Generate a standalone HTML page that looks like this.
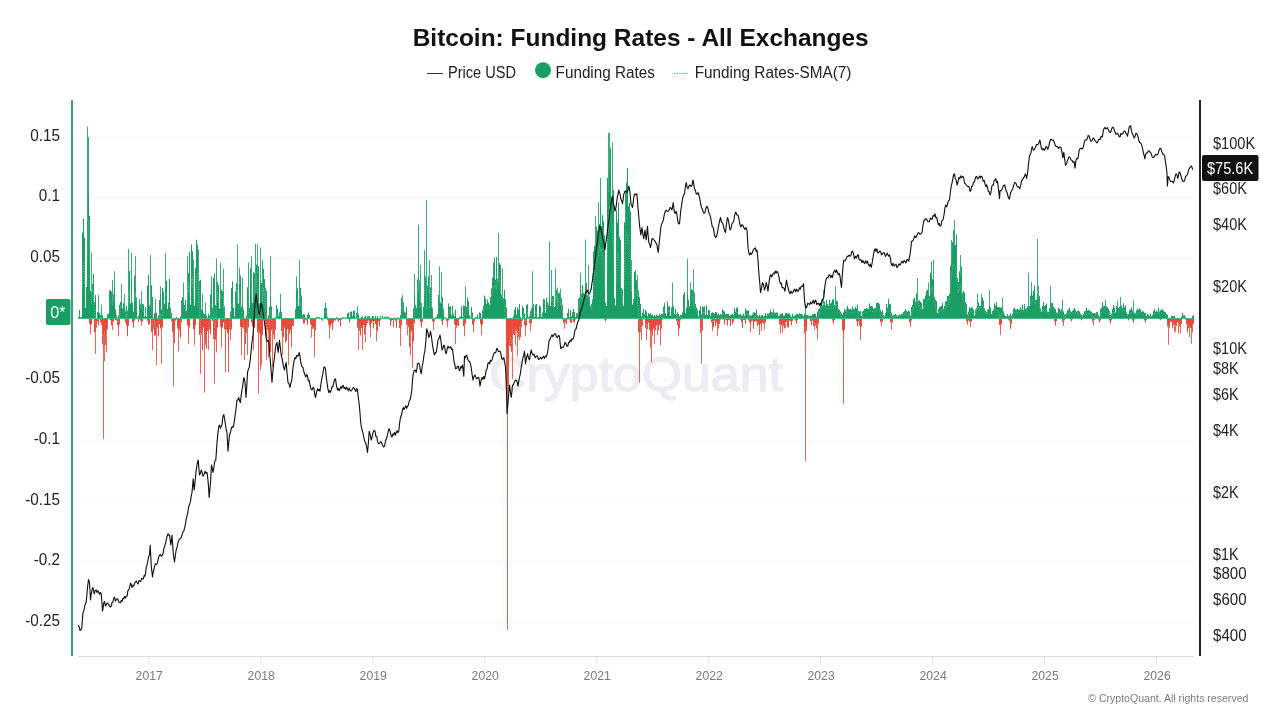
<!DOCTYPE html>
<html lang="en"><head><meta charset="utf-8"><title>Bitcoin: Funding Rates - All Exchanges</title>
<style>
html,body{margin:0;padding:0;background:#fff;}
body{width:1280px;height:720px;overflow:hidden;font-family:"Liberation Sans",sans-serif;}
svg{display:block;}
svg text{font-family:"Liberation Sans",sans-serif;}
.ax{font-size:16px;fill:#222;}
.yr{font-size:12px;fill:#7a7a7a;}
</style></head><body>
<svg width="1280" height="720" viewBox="0 0 1280 720">
<rect width="1280" height="720" fill="#fff"/>
<text x="412.7" y="45.7" textLength="456" lengthAdjust="spacingAndGlyphs" font-size="24" font-weight="bold" fill="#111">Bitcoin: Funding Rates - All Exchanges</text>
<line x1="427" y1="73.5" x2="443" y2="73.5" stroke="#333" stroke-width="1"/>
<text x="448" y="77.6" class="ax" textLength="68" lengthAdjust="spacingAndGlyphs">Price USD</text>
<circle cx="543" cy="70.2" r="8" fill="#1a9e65"/>
<text x="555.6" y="77.6" class="ax" textLength="99.2" lengthAdjust="spacingAndGlyphs">Funding Rates</text>
<line x1="674" y1="73.5" x2="689" y2="73.5" stroke="#4fb58c" stroke-width="1" stroke-dasharray="1.5,1"/>
<text x="694.7" y="77.6" class="ax" textLength="156.7" lengthAdjust="spacingAndGlyphs">Funding Rates-SMA(7)</text>
<g stroke="#f5f5f5" stroke-width="1">
<line x1="79" y1="622.35" x2="1193" y2="622.35"/>
<line x1="79" y1="561.68" x2="1193" y2="561.68"/>
<line x1="79" y1="501.01" x2="1193" y2="501.01"/>
<line x1="79" y1="440.34" x2="1193" y2="440.34"/>
<line x1="79" y1="379.67" x2="1193" y2="379.67"/>
<line x1="79" y1="258.33" x2="1193" y2="258.33"/>
<line x1="79" y1="197.66" x2="1193" y2="197.66"/>
<line x1="79" y1="136.99" x2="1193" y2="136.99"/>
</g>
<text x="489" y="390.6" textLength="294" lengthAdjust="spacingAndGlyphs" font-size="49" fill="#ececf2" stroke="#ececf2" stroke-width="1.4" stroke-linejoin="round">CryptoQuant</text>
<line x1="78" y1="656.5" x2="1194" y2="656.5" stroke="#dcdcdc" stroke-width="1"/>
<g stroke="#e2e2e2" stroke-width="1">
<line x1="149.2" y1="657" x2="149.2" y2="664"/>
<line x1="261.1" y1="657" x2="261.1" y2="664"/>
<line x1="373.0" y1="657" x2="373.0" y2="664"/>
<line x1="484.9" y1="657" x2="484.9" y2="664"/>
<line x1="596.8" y1="657" x2="596.8" y2="664"/>
<line x1="708.8" y1="657" x2="708.8" y2="664"/>
<line x1="820.7" y1="657" x2="820.7" y2="664"/>
<line x1="932.6" y1="657" x2="932.6" y2="664"/>
<line x1="1044.5" y1="657" x2="1044.5" y2="664"/>
<line x1="1156.4" y1="657" x2="1156.4" y2="664"/>
</g>
<text x="149.2" y="680" class="yr" text-anchor="middle" textLength="27.2" lengthAdjust="spacingAndGlyphs">2017</text>
<text x="261.2" y="680" class="yr" text-anchor="middle" textLength="27.2" lengthAdjust="spacingAndGlyphs">2018</text>
<text x="373.2" y="680" class="yr" text-anchor="middle" textLength="27.2" lengthAdjust="spacingAndGlyphs">2019</text>
<text x="485.2" y="680" class="yr" text-anchor="middle" textLength="27.2" lengthAdjust="spacingAndGlyphs">2020</text>
<text x="597.2" y="680" class="yr" text-anchor="middle" textLength="27.2" lengthAdjust="spacingAndGlyphs">2021</text>
<text x="709.2" y="680" class="yr" text-anchor="middle" textLength="27.2" lengthAdjust="spacingAndGlyphs">2022</text>
<text x="821.1" y="680" class="yr" text-anchor="middle" textLength="27.2" lengthAdjust="spacingAndGlyphs">2023</text>
<text x="933.1" y="680" class="yr" text-anchor="middle" textLength="27.2" lengthAdjust="spacingAndGlyphs">2024</text>
<text x="1045.1" y="680" class="yr" text-anchor="middle" textLength="27.2" lengthAdjust="spacingAndGlyphs">2025</text>
<text x="1157.1" y="680" class="yr" text-anchor="middle" textLength="27.2" lengthAdjust="spacingAndGlyphs">2026</text>
<path d="M89 318.7v5.1h1v-5.1zM90 318.7v6.2h1v-6.2zM91 318.7v5.9h1v-5.9zM94 318.7v13.6h1v-13.6zM95 318.7v13.8h1v-13.8zM96 318.7v9.0h1v-9.0zM97 318.7v3.0h1v-3.0zM98 318.7v6.7h1v-6.7zM100 318.7v3.8h1v-3.8zM101 318.7v6.4h1v-6.4zM102 318.7v25.6h1v-25.6zM103 318.7v15.3h1v-15.3zM104 318.7v12.6h1v-12.6zM105 318.7v26.6h1v-26.6zM106 318.7v11.7h1v-11.7zM107 318.7v10.9h1v-10.9zM109 318.7v0.4h1v-0.4zM110 318.7v1.4h1v-1.4zM111 318.7v6.8h1v-6.8zM112 318.7v3.7h1v-3.7zM113 318.7v2.7h1v-2.7zM115 318.7v1.2h1v-1.2zM116 318.7v1.8h1v-1.8zM117 318.7v6.3h1v-6.3zM118 318.7v8.2h1v-8.2zM119 318.7v5.8h1v-5.8zM125 318.7v3.7h1v-3.7zM126 318.7v7.0h1v-7.0zM127 318.7v17.6h1v-17.6zM128 318.7v7.0h1v-7.0zM132 318.7v3.3h1v-3.3zM133 318.7v8.8h1v-8.8zM134 318.7v2.1h1v-2.1zM137 318.7v0.3h1v-0.3zM138 318.7v3.3h1v-3.3zM139 318.7v0.5h1v-0.5zM140 318.7v1.7h1v-1.7zM141 318.7v2.2h1v-2.2zM142 318.7v2.7h1v-2.7zM147 318.7v2.1h1v-2.1zM148 318.7v5.7h1v-5.7zM149 318.7v5.6h1v-5.6zM151 318.7v13.0h1v-13.0zM152 318.7v13.3h1v-13.3zM153 318.7v10.2h1v-10.2zM154 318.7v16.9h1v-16.9zM155 318.7v16.9h1v-16.9zM156 318.7v8.4h1v-8.4zM157 318.7v9.5h1v-9.5zM158 318.7v17.9h1v-17.9zM159 318.7v5.7h1v-5.7zM160 318.7v9.9h1v-9.9zM161 318.7v8.3h1v-8.3zM162 318.7v8.5h1v-8.5zM171 318.7v2.8h1v-2.8zM172 318.7v13.9h1v-13.9zM173 318.7v13.0h1v-13.0zM174 318.7v24.3h1v-24.3zM175 318.7v2.1h1v-2.1zM176 318.7v0.8h1v-0.8zM177 318.7v9.9h1v-9.9zM178 318.7v12.0h1v-12.0zM179 318.7v11.9h1v-11.9zM180 318.7v18.8h1v-18.8zM181 318.7v3.9h1v-3.9zM187 318.7v6.8h1v-6.8zM188 318.7v7.0h1v-7.0zM189 318.7v8.8h1v-8.8zM193 318.7v10.3h1v-10.3zM194 318.7v11.1h1v-11.1zM195 318.7v6.7h1v-6.7zM199 318.7v16.0h1v-16.0zM200 318.7v14.1h1v-14.1zM201 318.7v15.8h1v-15.8zM202 318.7v31.6h1v-31.6zM203 318.7v8.8h1v-8.8zM204 318.7v15.5h1v-15.5zM205 318.7v25.9h1v-25.9zM206 318.7v29.9h1v-29.9zM207 318.7v12.4h1v-12.4zM208 318.7v15.1h1v-15.1zM209 318.7v10.7h1v-10.7zM210 318.7v15.7h1v-15.7zM212 318.7v2.2h1v-2.2zM213 318.7v20.2h1v-20.2zM214 318.7v11.9h1v-11.9zM215 318.7v21.0h1v-21.0zM216 318.7v16.3h1v-16.3zM217 318.7v8.9h1v-8.9zM220 318.7v8.0h1v-8.0zM221 318.7v12.3h1v-12.3zM222 318.7v8.7h1v-8.7zM223 318.7v3.9h1v-3.9zM224 318.7v10.5h1v-10.5zM225 318.7v32.6h1v-32.6zM226 318.7v11.0h1v-11.0zM227 318.7v14.6h1v-14.6zM228 318.7v29.5h1v-29.5zM229 318.7v10.9h1v-10.9zM230 318.7v8.5h1v-8.5zM231 318.7v10.9h1v-10.9zM240 318.7v8.1h1v-8.1zM241 318.7v20.1h1v-20.1zM242 318.7v8.7h1v-8.7zM243 318.7v9.7h1v-9.7zM244 318.7v13.2h1v-13.2zM245 318.7v25.2h1v-25.2zM246 318.7v14.0h1v-14.0zM247 318.7v8.0h1v-8.0zM248 318.7v8.9h1v-8.9zM251 318.7v3.8h1v-3.8zM252 318.7v7.8h1v-7.8zM253 318.7v15.7h1v-15.7zM254 318.7v9.0h1v-9.0zM257 318.7v13.5h1v-13.5zM258 318.7v11.7h1v-11.7zM259 318.7v14.5h1v-14.5zM260 318.7v29.0h1v-29.0zM261 318.7v18.8h1v-18.8zM262 318.7v16.5h1v-16.5zM265 318.7v17.0h1v-17.0zM266 318.7v17.2h1v-17.2zM267 318.7v11.0h1v-11.0zM268 318.7v13.8h1v-13.8zM269 318.7v31.6h1v-31.6zM270 318.7v33.1h1v-33.1zM271 318.7v11.2h1v-11.2zM272 318.7v11.8h1v-11.8zM273 318.7v16.2h1v-16.2zM274 318.7v20.9h1v-20.9zM275 318.7v11.1h1v-11.1zM281 318.7v12.2h1v-12.2zM282 318.7v17.3h1v-17.3zM283 318.7v18.4h1v-18.4zM284 318.7v9.0h1v-9.0zM285 318.7v23.8h1v-23.8zM286 318.7v22.1h1v-22.1zM287 318.7v10.2h1v-10.2zM288 318.7v10.8h1v-10.8zM289 318.7v15.6h1v-15.6zM290 318.7v11.6h1v-11.6zM291 318.7v17.0h1v-17.0zM292 318.7v7.4h1v-7.4zM293 318.7v7.9h1v-7.9zM302 318.7v0.7h1v-0.7zM303 318.7v4.9h1v-4.9zM304 318.7v4.5h1v-4.5zM305 318.7v0.7h1v-0.7zM306 318.7v1.9h1v-1.9zM307 318.7v6.0h1v-6.0zM308 318.7v0.2h1v-0.2zM310 318.7v5.7h1v-5.7zM311 318.7v7.1h1v-7.1zM312 318.7v10.1h1v-10.1zM313 318.7v9.7h1v-9.7zM314 318.7v18.0h1v-18.0zM315 318.7v12.0h1v-12.0zM321 318.7v1.1h1v-1.1zM322 318.7v2.0h1v-2.0zM327 318.7v1.3h1v-1.3zM328 318.7v6.0h1v-6.0zM329 318.7v9.2h1v-9.2zM330 318.7v7.9h1v-7.9zM331 318.7v5.0h1v-5.0zM332 318.7v11.3h1v-11.3zM333 318.7v4.1h1v-4.1zM334 318.7v1.6h1v-1.6zM335 318.7v1.7h1v-1.7zM337 318.7v1.9h1v-1.9zM338 318.7v3.0h1v-3.0zM339 318.7v1.6h1v-1.6zM340 318.7v7.8h1v-7.8zM341 318.7v1.1h1v-1.1zM348 318.7v0.6h1v-0.6zM349 318.7v4.0h1v-4.0zM350 318.7v0.8h1v-0.8zM357 318.7v9.1h1v-9.1zM358 318.7v12.0h1v-12.0zM359 318.7v12.2h1v-12.2zM360 318.7v16.7h1v-16.7zM361 318.7v9.5h1v-9.5zM362 318.7v12.9h1v-12.9zM363 318.7v6.4h1v-6.4zM364 318.7v15.5h1v-15.5zM365 318.7v10.0h1v-10.0zM366 318.7v6.5h1v-6.5zM367 318.7v4.0h1v-4.0zM368 318.7v1.7h1v-1.7zM369 318.7v6.6h1v-6.6zM370 318.7v9.9h1v-9.9zM371 318.7v4.2h1v-4.2zM372 318.7v2.6h1v-2.6zM373 318.7v9.8h1v-9.8zM374 318.7v2.4h1v-2.4zM375 318.7v5.6h1v-5.6zM376 318.7v10.7h1v-10.7zM377 318.7v12.3h1v-12.3zM378 318.7v2.7h1v-2.7zM379 318.7v7.7h1v-7.7zM380 318.7v1.7h1v-1.7zM388 318.7v0.3h1v-0.3zM389 318.7v1.0h1v-1.0zM390 318.7v7.2h1v-7.2zM391 318.7v2.3h1v-2.3zM392 318.7v1.3h1v-1.3zM393 318.7v8.6h1v-8.6zM394 318.7v0.6h1v-0.6zM395 318.7v2.6h1v-2.6zM396 318.7v9.1h1v-9.1zM397 318.7v0.6h1v-0.6zM398 318.7v0.6h1v-0.6zM399 318.7v9.2h1v-9.2zM400 318.7v10.5h1v-10.5zM401 318.7v6.8h1v-6.8zM406 318.7v5.8h1v-5.8zM407 318.7v6.4h1v-6.4zM408 318.7v8.3h1v-8.3zM409 318.7v28.4h1v-28.4zM410 318.7v10.4h1v-10.4zM411 318.7v12.8h1v-12.8zM412 318.7v26.0h1v-26.0zM413 318.7v22.6h1v-22.6zM414 318.7v4.6h1v-4.6zM420 318.7v3.5h1v-3.5zM421 318.7v8.8h1v-8.8zM422 318.7v3.1h1v-3.1zM432 318.7v2.6h1v-2.6zM433 318.7v3.5h1v-3.5zM434 318.7v2.7h1v-2.7zM441 318.7v2.3h1v-2.3zM442 318.7v6.3h1v-6.3zM443 318.7v1.3h1v-1.3zM446 318.7v2.5h1v-2.5zM447 318.7v3.2h1v-3.2zM448 318.7v1.9h1v-1.9zM454 318.7v5.9h1v-5.9zM455 318.7v6.6h1v-6.6zM456 318.7v9.1h1v-9.1zM457 318.7v6.9h1v-6.9zM458 318.7v7.2h1v-7.2zM463 318.7v7.4h1v-7.4zM464 318.7v4.5h1v-4.5zM465 318.7v5.2h1v-5.2zM472 318.7v5.8h1v-5.8zM473 318.7v7.0h1v-7.0zM474 318.7v3.0h1v-3.0zM480 318.7v5.1h1v-5.1zM481 318.7v7.2h1v-7.2zM482 318.7v6.1h1v-6.1zM506 318.7v67.1h1v-67.1zM507 318.7v67.9h1v-67.9zM508 318.7v72.1h1v-72.1zM509 318.7v26.9h1v-26.9zM510 318.7v27.7h1v-27.7zM511 318.7v33.0h1v-33.0zM512 318.7v11.0h1v-11.0zM513 318.7v15.8h1v-15.8zM514 318.7v16.4h1v-16.4zM515 318.7v9.0h1v-9.0zM516 318.7v12.4h1v-12.4zM517 318.7v14.8h1v-14.8zM518 318.7v18.5h1v-18.5zM519 318.7v8.8h1v-8.8zM520 318.7v18.5h1v-18.5zM521 318.7v3.4h1v-3.4zM522 318.7v1.9h1v-1.9zM524 318.7v6.4h1v-6.4zM525 318.7v8.7h1v-8.7zM526 318.7v6.9h1v-6.9zM529 318.7v4.4h1v-4.4zM530 318.7v5.1h1v-5.1zM531 318.7v4.5h1v-4.5zM562 318.7v0.9h1v-0.9zM563 318.7v4.3h1v-4.3zM564 318.7v4.0h1v-4.0zM565 318.7v3.9h1v-3.9zM566 318.7v5.2h1v-5.2zM567 318.7v0.7h1v-0.7zM568 318.7v0.3h1v-0.3zM569 318.7v0.8h1v-0.8zM570 318.7v3.7h1v-3.7zM571 318.7v4.5h1v-4.5zM572 318.7v0.3h1v-0.3zM573 318.7v3.2h1v-3.2zM574 318.7v4.0h1v-4.0zM575 318.7v0.7h1v-0.7zM604 318.7v1.0h1v-1.0zM605 318.7v2.6h1v-2.6zM606 318.7v0.9h1v-0.9zM638 318.7v13.5h1v-13.5zM639 318.7v14.6h1v-14.6zM640 318.7v13.7h1v-13.7zM641 318.7v8.8h1v-8.8zM642 318.7v7.1h1v-7.1zM645 318.7v9.1h1v-9.1zM646 318.7v6.5h1v-6.5zM647 318.7v10.2h1v-10.2zM648 318.7v4.3h1v-4.3zM649 318.7v11.5h1v-11.5zM650 318.7v14.7h1v-14.7zM651 318.7v11.4h1v-11.4zM652 318.7v16.8h1v-16.8zM653 318.7v10.0h1v-10.0zM654 318.7v9.3h1v-9.3zM655 318.7v11.6h1v-11.6zM656 318.7v6.9h1v-6.9zM657 318.7v4.4h1v-4.4zM658 318.7v11.3h1v-11.3zM659 318.7v6.2h1v-6.2zM660 318.7v12.9h1v-12.9zM661 318.7v9.7h1v-9.7zM662 318.7v1.0h1v-1.0zM676 318.7v2.0h1v-2.0zM677 318.7v6.3h1v-6.3zM678 318.7v8.2h1v-8.2zM679 318.7v9.9h1v-9.9zM680 318.7v1.7h1v-1.7zM700 318.7v14.1h1v-14.1zM701 318.7v11.9h1v-11.9zM702 318.7v11.7h1v-11.7zM711 318.7v3.9h1v-3.9zM712 318.7v5.2h1v-5.2zM713 318.7v8.2h1v-8.2zM714 318.7v2.1h1v-2.1zM715 318.7v7.3h1v-7.3zM716 318.7v4.0h1v-4.0zM717 318.7v5.3h1v-5.3zM718 318.7v9.9h1v-9.9zM719 318.7v5.2h1v-5.2zM720 318.7v1.6h1v-1.6zM722 318.7v0.9h1v-0.9zM723 318.7v0.8h1v-0.8zM724 318.7v5.8h1v-5.8zM725 318.7v0.9h1v-0.9zM726 318.7v1.6h1v-1.6zM727 318.7v6.9h1v-6.9zM728 318.7v1.3h1v-1.3zM729 318.7v1.8h1v-1.8zM730 318.7v7.2h1v-7.2zM731 318.7v0.6h1v-0.6zM732 318.7v5.4h1v-5.4zM733 318.7v3.0h1v-3.0zM740 318.7v1.0h1v-1.0zM741 318.7v3.3h1v-3.3zM742 318.7v9.5h1v-9.5zM743 318.7v1.4h1v-1.4zM744 318.7v1.3h1v-1.3zM745 318.7v5.2h1v-5.2zM748 318.7v1.6h1v-1.6zM749 318.7v3.3h1v-3.3zM750 318.7v6.6h1v-6.6zM751 318.7v2.9h1v-2.9zM752 318.7v2.0h1v-2.0zM753 318.7v10.1h1v-10.1zM754 318.7v3.0h1v-3.0zM755 318.7v2.3h1v-2.3zM756 318.7v2.9h1v-2.9zM757 318.7v7.5h1v-7.5zM758 318.7v5.6h1v-5.6zM759 318.7v8.0h1v-8.0zM760 318.7v5.2h1v-5.2zM761 318.7v5.8h1v-5.8zM762 318.7v4.0h1v-4.0zM763 318.7v5.2h1v-5.2zM764 318.7v3.5h1v-3.5zM765 318.7v3.9h1v-3.9zM779 318.7v5.7h1v-5.7zM780 318.7v5.7h1v-5.7zM781 318.7v6.7h1v-6.7zM782 318.7v4.2h1v-4.2zM783 318.7v7.5h1v-7.5zM784 318.7v9.9h1v-9.9zM785 318.7v3.3h1v-3.3zM786 318.7v3.4h1v-3.4zM787 318.7v8.6h1v-8.6zM788 318.7v8.8h1v-8.8zM789 318.7v2.1h1v-2.1zM790 318.7v2.6h1v-2.6zM791 318.7v6.3h1v-6.3zM792 318.7v2.4h1v-2.4zM795 318.7v2.1h1v-2.1zM796 318.7v5.1h1v-5.1zM797 318.7v1.2h1v-1.2zM804 318.7v14.6h1v-14.6zM805 318.7v8.6h1v-8.6zM806 318.7v12.4h1v-12.4zM810 318.7v2.4h1v-2.4zM811 318.7v6.3h1v-6.3zM812 318.7v1.9h1v-1.9zM813 318.7v7.4h1v-7.4zM814 318.7v5.0h1v-5.0zM815 318.7v6.8h1v-6.8zM816 318.7v9.8h1v-9.8zM817 318.7v7.1h1v-7.1zM818 318.7v5.0h1v-5.0zM832 318.7v2.0h1v-2.0zM833 318.7v5.1h1v-5.1zM834 318.7v1.3h1v-1.3zM842 318.7v11.9h1v-11.9zM843 318.7v14.2h1v-14.2zM844 318.7v11.5h1v-11.5zM856 318.7v2.3h1v-2.3zM857 318.7v7.6h1v-7.6zM858 318.7v2.6h1v-2.6zM859 318.7v6.7h1v-6.7zM860 318.7v9.2h1v-9.2zM861 318.7v7.7h1v-7.7zM880 318.7v3.3h1v-3.3zM881 318.7v2.6h1v-2.6zM882 318.7v3.0h1v-3.0zM890 318.7v3.2h1v-3.2zM891 318.7v3.7h1v-3.7zM892 318.7v3.8h1v-3.8zM909 318.7v3.6h1v-3.6zM910 318.7v3.2h1v-3.2zM911 318.7v1.7h1v-1.7zM966 318.7v2.4h1v-2.4zM967 318.7v5.8h1v-5.8zM968 318.7v1.7h1v-1.7zM969 318.7v2.8h1v-2.8zM970 318.7v3.0h1v-3.0zM971 318.7v2.8h1v-2.8zM999 318.7v6.2h1v-6.2zM1000 318.7v5.7h1v-5.7zM1001 318.7v5.8h1v-5.8zM1008 318.7v1.1h1v-1.1zM1009 318.7v2.4h1v-2.4zM1010 318.7v10.1h1v-10.1zM1011 318.7v5.1h1v-5.1zM1054 318.7v2.2h1v-2.2zM1055 318.7v6.9h1v-6.9zM1056 318.7v2.3h1v-2.3zM1062 318.7v3.2h1v-3.2zM1063 318.7v1.8h1v-1.8zM1064 318.7v1.5h1v-1.5zM1070 318.7v0.7h1v-0.7zM1071 318.7v2.6h1v-2.6zM1072 318.7v0.8h1v-0.8zM1080 318.7v0.4h1v-0.4zM1081 318.7v1.6h1v-1.6zM1082 318.7v0.6h1v-0.6zM1092 318.7v2.7h1v-2.7zM1093 318.7v1.9h1v-1.9zM1094 318.7v1.4h1v-1.4zM1098 318.7v1.0h1v-1.0zM1099 318.7v3.5h1v-3.5zM1100 318.7v1.7h1v-1.7zM1109 318.7v1.9h1v-1.9zM1110 318.7v4.8h1v-4.8zM1111 318.7v1.5h1v-1.5zM1127 318.7v0.4h1v-0.4zM1128 318.7v1.6h1v-1.6zM1129 318.7v0.6h1v-0.6zM1132 318.7v1.7h1v-1.7zM1133 318.7v4.1h1v-4.1zM1134 318.7v0.9h1v-0.9zM1144 318.7v1.7h1v-1.7zM1145 318.7v4.1h1v-4.1zM1146 318.7v1.4h1v-1.4zM1159 318.7v0.6h1v-0.6zM1160 318.7v1.6h1v-1.6zM1161 318.7v0.6h1v-0.6zM1166 318.7v0.6h1v-0.6zM1167 318.7v7.8h1v-7.8zM1168 318.7v8.0h1v-8.0zM1169 318.7v9.3h1v-9.3zM1170 318.7v2.8h1v-2.8zM1171 318.7v3.2h1v-3.2zM1172 318.7v9.6h1v-9.6zM1173 318.7v6.6h1v-6.6zM1174 318.7v5.8h1v-5.8zM1175 318.7v6.8h1v-6.8zM1176 318.7v7.2h1v-7.2zM1177 318.7v3.4h1v-3.4zM1178 318.7v4.0h1v-4.0zM1179 318.7v7.9h1v-7.9zM1180 318.7v4.4h1v-4.4zM1181 318.7v5.2h1v-5.2zM1185 318.7v0.9h1v-0.9zM1186 318.7v5.5h1v-5.5zM1187 318.7v13.8h1v-13.8zM1188 318.7v9.3h1v-9.3zM1189 318.7v7.3h1v-7.3zM1190 318.7v9.0h1v-9.0zM1191 318.7v10.0h1v-10.0zM1192 318.7v6.8h1v-6.8zM1193 318.7v4.8h1v-4.8z" fill="#e8493b"/>
<path d="M90 324.9v9.4h1v-9.4zM95 332.5v21.2h1v-21.2zM103 334.0v105.0h1v-105.0zM104 331.3v29.9h1v-29.9zM106 330.4v22.1h1v-22.1zM112 322.4v7.6h1v-7.6zM118 326.9v9.3h1v-9.3zM141 320.9v4.7h1v-4.7zM152 332.0v18.0h1v-18.0zM156 327.1v37.9h1v-37.9zM161 327.0v36.8h1v-36.8zM173 331.7v54.6h1v-54.6zM178 330.7v20.6h1v-20.6zM188 325.7v18.1h1v-18.1zM194 329.8v15.2h1v-15.2zM200 332.8v40.9h1v-40.9zM204 334.2v58.3h1v-58.3zM208 333.8v16.2h1v-16.2zM214 330.6v53.2h1v-53.2zM216 335.0v17.5h1v-17.5zM221 331.0v16.5h1v-16.5zM225 351.3v21.2h1v-21.2zM228 348.2v24.3h1v-24.3zM230 327.2v12.8h1v-12.8zM241 338.8v16.2h1v-16.2zM244 331.9v28.1h1v-28.1zM247 326.7v28.3h1v-28.3zM253 334.4v15.6h1v-15.6zM258 330.4v63.4h1v-63.4zM260 347.7v22.3h1v-22.3zM261 337.5v27.5h1v-27.5zM266 335.9v24.1h1v-24.1zM268 332.5v25.0h1v-25.0zM272 330.5v37.0h1v-37.0zM282 336.0v19.0h1v-19.0zM288 329.5v35.5h1v-35.5zM291 335.7v11.8h1v-11.8zM311 325.8v11.7h1v-11.7zM314 336.7v20.3h1v-20.3zM329 327.9v10.8h1v-10.8zM358 330.7v19.3h1v-19.3zM362 331.6v18.4h1v-18.4zM365 328.7v13.8h1v-13.8zM370 328.6v8.9h1v-8.9zM376 329.4v11.9h1v-11.9zM400 329.2v17.0h1v-17.0zM407 325.1v9.9h1v-9.9zM410 329.1v25.9h1v-25.9zM412 344.7v22.8h1v-22.8zM433 322.2v7.8h1v-7.8zM447 321.9v5.6h1v-5.6zM455 325.3v18.4h1v-18.4zM464 323.2v13.0h1v-13.0zM473 325.7v6.8h1v-6.8zM481 325.9v9.1h1v-9.1zM507 386.6v243.4h1v-243.4zM512 329.7v49.1h1v-49.1zM515 327.7v17.3h1v-17.3zM517 333.5v22.8h1v-22.8zM519 327.5v12.5h1v-12.5zM521 322.1v5.4h1v-5.4zM525 327.4v8.9h1v-8.9zM530 323.8v7.5h1v-7.5zM564 322.7v6.0h1v-6.0zM639 333.3v49.2h1v-49.2zM641 327.5v12.5h1v-12.5zM646 325.2v14.8h1v-14.8zM650 333.4v14.1h1v-14.1zM651 330.1v32.4h1v-32.4zM654 328.0v15.8h1v-15.8zM657 323.1v11.9h1v-11.9zM660 331.6v13.4h1v-13.4zM678 326.9v9.3h1v-9.3zM701 330.6v33.2h1v-33.2zM712 323.9v7.4h1v-7.4zM717 324.0v12.3h1v-12.3zM750 325.3v7.2h1v-7.2zM759 326.7v8.3h1v-8.3zM761 324.5v6.8h1v-6.8zM764 322.2v7.8h1v-7.8zM780 324.4v9.3h1v-9.3zM782 322.9v9.6h1v-9.6zM785 322.0v5.5h1v-5.5zM805 327.3v134.0h1v-134.0zM814 323.7v6.3h1v-6.3zM817 325.8v13.7h1v-13.7zM843 332.9v70.9h1v-70.9zM860 327.9v12.1h1v-12.1zM881 321.3v4.9h1v-4.9zM891 322.4v7.1h1v-7.1zM910 321.9v5.1h1v-5.1zM970 321.7v5.3h1v-5.3zM1000 324.4v10.6h1v-10.6zM1063 320.5v5.4h1v-5.4zM1093 320.6v4.8h1v-4.8zM1168 326.7v18.0h1v-18.0zM1174 324.5v8.0h1v-8.0zM1175 325.5v6.1h1v-6.1zM1178 322.7v10.8h1v-10.8zM1180 323.1v10.3h1v-10.3zM1189 326.0v11.2h1v-11.2zM1191 328.7v15.1h1v-15.1zM1192 325.5v7.0h1v-7.0z" fill="#e8493b" fill-opacity="0.85"/>
<path d="M87 220.6v-94.1h1v94.1zM88 193.9v-56.9h1v56.9zM91 303.7v-51.2h1v51.2zM98 312.0v-17.0h1v17.0zM101 314.6v-9.6h1v9.6zM112 304.4v-24.4h1v24.4zM114 287.4v-16.2h1v16.2zM121 300.2v-16.5h1v16.5zM124 306.3v-12.6h1v12.6zM128 307.6v-58.9h1v58.9zM131 277.6v-24.6h1v24.6zM135 288.1v-31.8h1v31.8zM141 305.2v-14.0h1v14.0zM150 307.3v-52.3h1v52.3zM155 313.6v-14.9h1v14.9zM160 295.0v-8.8h1v8.8zM165 287.3v-34.3h1v34.3zM183 303.1v-20.6h1v20.6zM187 303.4v-47.1h1v47.1zM193 292.7v-33.2h1v33.2zM198 305.2v-55.2h1v55.2zM202 308.2v-14.4h1v14.4zM205 313.6v-11.1h1v11.1zM211 289.0v-12.8h1v12.8zM216 305.3v-46.5h1v46.5zM220 299.5v-36.5h1v36.5zM223 308.1v-39.4h1v39.4zM237 302.2v-57.7h1v57.7zM239 283.5v-16.0h1v16.0zM242 302.8v-25.3h1v25.3zM248 301.9v-39.4h1v39.4zM251 300.2v-43.9h1v43.9zM255 305.0v-61.2h1v61.2zM257 272.6v-28.9h1v28.9zM260 279.7v-32.2h1v32.2zM262 305.4v-45.4h1v45.4zM265 309.9v-22.4h1v22.4zM270 295.5v-39.3h1v39.3zM280 306.2v-12.5h1v12.5zM296 290.7v-14.5h1v14.5zM299 305.6v-46.1h1v46.1zM325 309.1v-6.6h1v6.6zM357 312.9v-6.7h1v6.7zM402 305.7v-10.7h1v10.7zM414 294.9v-21.1h1v21.1zM418 292.3v-67.3h1v67.3zM420 307.3v-42.3h1v42.3zM424 274.3v-24.3h1v24.3zM426 308.9v-108.9h1v108.9zM429 307.4v-47.4h1v47.4zM431 306.3v-31.3h1v31.3zM439 298.9v-32.6h1v32.6zM441 303.4v-30.9h1v30.9zM465 305.6v-19.4h1v19.4zM493 276.7v-14.2h1v14.2zM498 276.6v-43.6h1v43.6zM502 297.1v-28.3h1v28.3zM532 304.4v-33.1h1v33.1zM549 297.0v-55.8h1v55.8zM551 297.4v-27.4h1v27.4zM555 305.7v-37.0h1v37.0zM557 309.0v-21.5h1v21.5zM560 304.3v-15.5h1v15.5zM580 284.5v-12.0h1v12.0zM585 287.1v-47.6h1v47.6zM588 291.6v-26.6h1v26.6zM595 244.9v-28.6h1v28.6zM598 231.9v-29.4h1v29.4zM600 205.1v-27.1h1v27.1zM608 191.6v-58.6h1v58.6zM609 172.1v-39.1h1v39.1zM612 200.6v-58.1h1v58.1zM625 225.0v-35.0h1v35.0zM631 290.4v-30.4h1v30.4zM637 295.6v-20.6h1v20.6zM672 305.0v-22.5h1v22.5zM687 293.2v-34.4h1v34.4zM690 293.7v-11.2h1v11.2zM693 307.2v-37.7h1v37.7zM805 314.8v-11.0h1v11.0zM823 304.4v-14.4h1v14.4zM835 305.7v-19.5h1v19.5zM917 301.5v-23.5h1v23.5zM928 295.1v-12.6h1v12.6zM931 276.0v-14.7h1v14.7zM933 279.5v-19.5h1v19.5zM951 263.0v-23.0h1v23.0zM954 244.3v-24.3h1v24.3zM960 274.8v-19.8h1v19.8zM977 304.7v-10.9h1v10.9zM981 301.3v-7.6h1v7.6zM989 304.7v-14.7h1v14.7zM1002 308.3v-10.8h1v10.8zM1028 308.1v-35.6h1v35.6zM1031 292.1v-10.2h1v10.2zM1037 291.5v-52.8h1v52.8zM1038 296.5v-10.8h1v10.8zM1050 301.2v-15.5h1v15.5zM1062 310.7v-11.0h1v11.0zM1105 307.2v-7.5h1v7.5zM1117 307.5v-6.8h1v6.8zM1120 305.6v-8.8h1v8.8zM1133 313.3v-13.1h1v13.1z" fill="#1a9e65" fill-opacity="0.85"/>
<path d="M78 318.7v-1.5h1v1.5zM79 318.7v-8.8h1v8.8zM80 318.7v-1.3h1v1.3zM81 318.7v-1.6h1v1.6zM82 318.7v-86.1h1v86.1zM83 318.7v-99.9h1v99.9zM84 318.7v-81.2h1v81.2zM85 318.7v-10.9h1v10.9zM86 318.7v-32.0h1v32.0zM87 318.7v-98.1h1v98.1zM88 318.7v-124.8h1v124.8zM89 318.7v-103.0h1v103.0zM90 318.7v-27.9h1v27.9zM91 318.7v-15.0h1v15.0zM92 318.7v-34.8h1v34.8zM93 318.7v-44.9h1v44.9zM94 318.7v-16.7h1v16.7zM95 318.7v-23.6h1v23.6zM96 318.7v-0.6h1v0.6zM97 318.7v-6.6h1v6.6zM98 318.7v-6.7h1v6.7zM99 318.7v-5.5h1v5.5zM100 318.7v-4.0h1v4.0zM101 318.7v-4.1h1v4.1zM102 318.7v-3.5h1v3.5zM103 318.7v-0.6h1v0.6zM104 318.7v-0.6h1v0.6zM105 318.7v-0.6h1v0.6zM106 318.7v-0.6h1v0.6zM107 318.7v-4.1h1v4.1zM108 318.7v-5.5h1v5.5zM109 318.7v-27.9h1v27.9zM110 318.7v-28.7h1v28.7zM111 318.7v-26.9h1v26.9zM112 318.7v-14.3h1v14.3zM113 318.7v-24.3h1v24.3zM114 318.7v-31.3h1v31.3zM115 318.7v-9.7h1v9.7zM116 318.7v-3.8h1v3.8zM117 318.7v-0.6h1v0.6zM118 318.7v-3.1h1v3.1zM119 318.7v-14.0h1v14.0zM120 318.7v-16.7h1v16.7zM121 318.7v-18.5h1v18.5zM122 318.7v-10.5h1v10.5zM123 318.7v-15.4h1v15.4zM124 318.7v-12.4h1v12.4zM125 318.7v-8.2h1v8.2zM126 318.7v-12.9h1v12.9zM127 318.7v-8.1h1v8.1zM128 318.7v-11.1h1v11.1zM129 318.7v-47.9h1v47.9zM130 318.7v-15.3h1v15.3zM131 318.7v-41.1h1v41.1zM132 318.7v-16.1h1v16.1zM133 318.7v-7.1h1v7.1zM134 318.7v-43.3h1v43.3zM135 318.7v-30.6h1v30.6zM136 318.7v-21.5h1v21.5zM137 318.7v-1.3h1v1.3zM138 318.7v-2.9h1v2.9zM139 318.7v-19.4h1v19.4zM140 318.7v-14.5h1v14.5zM141 318.7v-13.5h1v13.5zM142 318.7v-14.9h1v14.9zM143 318.7v-14.1h1v14.1zM144 318.7v-2.3h1v2.3zM145 318.7v-11.6h1v11.6zM146 318.7v-1.7h1v1.7zM147 318.7v-33.3h1v33.3zM148 318.7v-43.7h1v43.7zM149 318.7v-13.1h1v13.1zM150 318.7v-11.4h1v11.4zM151 318.7v-33.5h1v33.5zM152 318.7v-21.8h1v21.8zM153 318.7v-0.6h1v0.6zM154 318.7v-5.5h1v5.5zM155 318.7v-5.1h1v5.1zM156 318.7v-6.1h1v6.1zM157 318.7v-0.6h1v0.6zM158 318.7v-3.3h1v3.3zM159 318.7v-18.8h1v18.8zM160 318.7v-23.7h1v23.7zM161 318.7v-9.3h1v9.3zM162 318.7v-30.6h1v30.6zM163 318.7v-27.1h1v27.1zM164 318.7v-15.1h1v15.1zM165 318.7v-31.4h1v31.4zM166 318.7v-38.0h1v38.0zM167 318.7v-9.6h1v9.6zM168 318.7v-16.3h1v16.3zM169 318.7v-39.9h1v39.9zM170 318.7v-11.3h1v11.3zM171 318.7v-6.0h1v6.0zM172 318.7v-0.6h1v0.6zM173 318.7v-0.6h1v0.6zM174 318.7v-0.6h1v0.6zM175 318.7v-0.6h1v0.6zM176 318.7v-1.8h1v1.8zM177 318.7v-0.6h1v0.6zM178 318.7v-0.6h1v0.6zM179 318.7v-0.6h1v0.6zM180 318.7v-2.2h1v2.2zM181 318.7v-18.4h1v18.4zM182 318.7v-21.5h1v21.5zM183 318.7v-15.6h1v15.6zM184 318.7v-13.7h1v13.7zM185 318.7v-18.8h1v18.8zM186 318.7v-7.9h1v7.9zM187 318.7v-15.3h1v15.3zM188 318.7v-45.6h1v45.6zM189 318.7v-66.8h1v66.8zM190 318.7v-14.1h1v14.1zM191 318.7v-74.2h1v74.2zM192 318.7v-67.4h1v67.4zM193 318.7v-26.0h1v26.0zM194 318.7v-13.1h1v13.1zM195 318.7v-50.9h1v50.9zM196 318.7v-79.0h1v79.0zM197 318.7v-74.2h1v74.2zM198 318.7v-13.5h1v13.5zM199 318.7v-37.6h1v37.6zM200 318.7v-39.0h1v39.0zM201 318.7v-9.1h1v9.1zM202 318.7v-10.5h1v10.5zM203 318.7v-5.4h1v5.4zM204 318.7v-4.8h1v4.8zM205 318.7v-5.1h1v5.1zM206 318.7v-3.3h1v3.3zM207 318.7v-0.6h1v0.6zM208 318.7v-4.7h1v4.7zM209 318.7v-3.0h1v3.0zM210 318.7v-24.2h1v24.2zM211 318.7v-29.7h1v29.7zM212 318.7v-11.0h1v11.0zM213 318.7v-41.0h1v41.0zM214 318.7v-45.1h1v45.1zM215 318.7v-13.7h1v13.7zM216 318.7v-13.4h1v13.4zM217 318.7v-36.6h1v36.6zM218 318.7v-33.6h1v33.6zM219 318.7v-10.3h1v10.3zM220 318.7v-19.2h1v19.2zM221 318.7v-29.2h1v29.2zM222 318.7v-27.5h1v27.5zM223 318.7v-10.6h1v10.6zM224 318.7v-12.1h1v12.1zM225 318.7v-0.6h1v0.6zM226 318.7v-0.6h1v0.6zM227 318.7v-0.6h1v0.6zM228 318.7v-0.6h1v0.6zM229 318.7v-0.6h1v0.6zM230 318.7v-7.1h1v7.1zM231 318.7v-30.8h1v30.8zM232 318.7v-37.4h1v37.4zM233 318.7v-11.3h1v11.3zM234 318.7v-2.4h1v2.4zM235 318.7v-27.5h1v27.5zM236 318.7v-35.7h1v35.7zM237 318.7v-16.5h1v16.5zM238 318.7v-14.9h1v14.9zM239 318.7v-35.2h1v35.2zM240 318.7v-43.2h1v43.2zM241 318.7v-12.3h1v12.3zM242 318.7v-15.9h1v15.9zM243 318.7v-9.2h1v9.2zM244 318.7v-0.6h1v0.6zM245 318.7v-0.6h1v0.6zM246 318.7v-3.3h1v3.3zM247 318.7v-31.4h1v31.4zM248 318.7v-16.8h1v16.8zM249 318.7v-11.3h1v11.3zM250 318.7v-50.4h1v50.4zM251 318.7v-18.5h1v18.5zM252 318.7v-15.7h1v15.7zM253 318.7v-46.4h1v46.4zM254 318.7v-45.4h1v45.4zM255 318.7v-13.7h1v13.7zM256 318.7v-54.2h1v54.2zM257 318.7v-46.1h1v46.1zM258 318.7v-52.8h1v52.8zM259 318.7v-15.2h1v15.2zM260 318.7v-39.0h1v39.0zM261 318.7v-35.6h1v35.6zM262 318.7v-13.3h1v13.3zM263 318.7v-50.3h1v50.3zM264 318.7v-39.7h1v39.7zM265 318.7v-8.8h1v8.8zM266 318.7v-27.9h1v27.9zM267 318.7v-0.6h1v0.6zM268 318.7v-3.5h1v3.5zM269 318.7v-11.7h1v11.7zM270 318.7v-23.2h1v23.2zM271 318.7v-12.1h1v12.1zM272 318.7v-0.6h1v0.6zM273 318.7v-0.6h1v0.6zM274 318.7v-0.6h1v0.6zM275 318.7v-1.4h1v1.4zM276 318.7v-13.6h1v13.6zM277 318.7v-9.9h1v9.9zM278 318.7v-2.4h1v2.4zM279 318.7v-6.4h1v6.4zM280 318.7v-12.5h1v12.5zM281 318.7v-6.8h1v6.8zM282 318.7v-0.6h1v0.6zM283 318.7v-0.6h1v0.6zM284 318.7v-0.6h1v0.6zM285 318.7v-0.6h1v0.6zM286 318.7v-0.6h1v0.6zM287 318.7v-0.6h1v0.6zM288 318.7v-0.6h1v0.6zM289 318.7v-0.6h1v0.6zM290 318.7v-0.6h1v0.6zM291 318.7v-0.6h1v0.6zM292 318.7v-0.6h1v0.6zM293 318.7v-0.6h1v0.6zM294 318.7v-0.9h1v0.9zM295 318.7v-9.7h1v9.7zM296 318.7v-28.0h1v28.0zM297 318.7v-30.7h1v30.7zM298 318.7v-12.6h1v12.6zM299 318.7v-13.1h1v13.1zM300 318.7v-30.9h1v30.9zM301 318.7v-23.5h1v23.5zM302 318.7v-3.5h1v3.5zM303 318.7v-4.8h1v4.8zM304 318.7v-4.4h1v4.4zM305 318.7v-1.2h1v1.2zM306 318.7v-0.6h1v0.6zM307 318.7v-4.1h1v4.1zM308 318.7v-6.1h1v6.1zM309 318.7v-3.7h1v3.7zM310 318.7v-0.6h1v0.6zM311 318.7v-0.6h1v0.6zM312 318.7v-0.6h1v0.6zM313 318.7v-0.6h1v0.6zM314 318.7v-0.6h1v0.6zM315 318.7v-0.6h1v0.6zM316 318.7v-1.7h1v1.7zM317 318.7v-1.7h1v1.7zM318 318.7v-1.2h1v1.2zM319 318.7v-1.6h1v1.6zM320 318.7v-0.9h1v0.9zM321 318.7v-0.6h1v0.6zM322 318.7v-0.6h1v0.6zM323 318.7v-0.8h1v0.8zM324 318.7v-10.7h1v10.7zM325 318.7v-9.6h1v9.6zM326 318.7v-10.6h1v10.6zM327 318.7v-2.0h1v2.0zM328 318.7v-0.6h1v0.6zM329 318.7v-0.6h1v0.6zM330 318.7v-0.6h1v0.6zM331 318.7v-0.6h1v0.6zM332 318.7v-0.6h1v0.6zM333 318.7v-0.6h1v0.6zM334 318.7v-0.6h1v0.6zM335 318.7v-0.6h1v0.6zM336 318.7v-1.6h1v1.6zM337 318.7v-0.6h1v0.6zM338 318.7v-0.6h1v0.6zM339 318.7v-0.6h1v0.6zM340 318.7v-0.6h1v0.6zM341 318.7v-0.6h1v0.6zM342 318.7v-1.8h1v1.8zM343 318.7v-1.2h1v1.2zM344 318.7v-1.1h1v1.1zM345 318.7v-0.9h1v0.9zM346 318.7v-1.4h1v1.4zM347 318.7v-5.3h1v5.3zM348 318.7v-6.5h1v6.5zM349 318.7v-1.7h1v1.7zM350 318.7v-6.7h1v6.7zM351 318.7v-7.3h1v7.3zM352 318.7v-2.5h1v2.5zM353 318.7v-8.1h1v8.1zM354 318.7v-7.8h1v7.8zM355 318.7v-1.1h1v1.1zM356 318.7v-5.9h1v5.9zM357 318.7v-5.8h1v5.8zM358 318.7v-4.3h1v4.3zM359 318.7v-0.6h1v0.6zM360 318.7v-0.6h1v0.6zM361 318.7v-1.9h1v1.9zM362 318.7v-2.3h1v2.3zM363 318.7v-0.6h1v0.6zM364 318.7v-1.9h1v1.9zM365 318.7v-3.2h1v3.2zM366 318.7v-0.6h1v0.6zM367 318.7v-2.5h1v2.5zM368 318.7v-2.2h1v2.2zM369 318.7v-2.9h1v2.9zM370 318.7v-0.6h1v0.6zM371 318.7v-0.6h1v0.6zM372 318.7v-2.7h1v2.7zM373 318.7v-2.5h1v2.5zM374 318.7v-0.6h1v0.6zM375 318.7v-2.9h1v2.9zM376 318.7v-0.6h1v0.6zM377 318.7v-2.6h1v2.6zM378 318.7v-0.6h1v0.6zM379 318.7v-0.6h1v0.6zM380 318.7v-2.7h1v2.7zM381 318.7v-1.0h1v1.0zM382 318.7v-3.3h1v3.3zM383 318.7v-1.1h1v1.1zM384 318.7v-2.0h1v2.0zM385 318.7v-2.2h1v2.2zM386 318.7v-1.4h1v1.4zM387 318.7v-2.5h1v2.5zM388 318.7v-1.8h1v1.8zM389 318.7v-1.2h1v1.2zM390 318.7v-0.6h1v0.6zM391 318.7v-0.6h1v0.6zM392 318.7v-0.6h1v0.6zM393 318.7v-0.6h1v0.6zM394 318.7v-1.1h1v1.1zM395 318.7v-0.6h1v0.6zM396 318.7v-0.6h1v0.6zM397 318.7v-1.5h1v1.5zM398 318.7v-0.9h1v0.9zM399 318.7v-0.6h1v0.6zM400 318.7v-3.7h1v3.7zM401 318.7v-20.9h1v20.9zM402 318.7v-13.0h1v13.0zM403 318.7v-16.4h1v16.4zM404 318.7v-7.0h1v7.0zM405 318.7v-6.3h1v6.3zM406 318.7v-11.9h1v11.9zM407 318.7v-0.6h1v0.6zM408 318.7v-0.6h1v0.6zM409 318.7v-0.6h1v0.6zM410 318.7v-0.6h1v0.6zM411 318.7v-0.6h1v0.6zM412 318.7v-0.6h1v0.6zM413 318.7v-10.5h1v10.5zM414 318.7v-23.8h1v23.8zM415 318.7v-13.6h1v13.6zM416 318.7v-10.6h1v10.6zM417 318.7v-39.5h1v39.5zM418 318.7v-26.4h1v26.4zM419 318.7v-38.3h1v38.3zM420 318.7v-11.4h1v11.4zM421 318.7v-15.9h1v15.9zM422 318.7v-0.6h1v0.6zM423 318.7v-11.9h1v11.9zM424 318.7v-44.4h1v44.4zM425 318.7v-42.2h1v42.2zM426 318.7v-9.8h1v9.8zM427 318.7v-33.1h1v33.1zM428 318.7v-42.1h1v42.1zM429 318.7v-11.3h1v11.3zM430 318.7v-31.5h1v31.5zM431 318.7v-12.4h1v12.4zM432 318.7v-11.2h1v11.2zM433 318.7v-0.6h1v0.6zM434 318.7v-0.6h1v0.6zM435 318.7v-1.1h1v1.1zM436 318.7v-1.9h1v1.9zM437 318.7v-4.7h1v4.7zM438 318.7v-24.0h1v24.0zM439 318.7v-19.8h1v19.8zM440 318.7v-16.1h1v16.1zM441 318.7v-15.3h1v15.3zM442 318.7v-21.5h1v21.5zM443 318.7v-10.0h1v10.0zM444 318.7v-1.1h1v1.1zM445 318.7v-1.5h1v1.5zM446 318.7v-0.6h1v0.6zM447 318.7v-0.6h1v0.6zM448 318.7v-15.2h1v15.2zM449 318.7v-11.6h1v11.6zM450 318.7v-12.7h1v12.7zM451 318.7v-3.1h1v3.1zM452 318.7v-12.7h1v12.7zM453 318.7v-4.6h1v4.6zM454 318.7v-2.7h1v2.7zM455 318.7v-8.9h1v8.9zM456 318.7v-0.6h1v0.6zM457 318.7v-0.6h1v0.6zM458 318.7v-0.6h1v0.6zM459 318.7v-2.0h1v2.0zM460 318.7v-1.9h1v1.9zM461 318.7v-12.5h1v12.5zM462 318.7v-1.9h1v1.9zM463 318.7v-13.3h1v13.3zM464 318.7v-12.7h1v12.7zM465 318.7v-13.1h1v13.1zM466 318.7v-11.8h1v11.8zM467 318.7v-21.2h1v21.2zM468 318.7v-17.7h1v17.7zM469 318.7v-3.5h1v3.5zM470 318.7v-1.1h1v1.1zM471 318.7v-11.7h1v11.7zM472 318.7v-6.3h1v6.3zM473 318.7v-0.6h1v0.6zM474 318.7v-0.6h1v0.6zM475 318.7v-1.7h1v1.7zM476 318.7v-1.4h1v1.4zM477 318.7v-4.1h1v4.1zM478 318.7v-1.1h1v1.1zM479 318.7v-6.4h1v6.4zM480 318.7v-5.8h1v5.8zM481 318.7v-1.2h1v1.2zM482 318.7v-8.8h1v8.8zM483 318.7v-13.2h1v13.2zM484 318.7v-23.1h1v23.1zM485 318.7v-20.2h1v20.2zM486 318.7v-15.0h1v15.0zM487 318.7v-19.1h1v19.1zM488 318.7v-16.3h1v16.3zM489 318.7v-14.0h1v14.0zM490 318.7v-21.8h1v21.8zM491 318.7v-30.3h1v30.3zM492 318.7v-40.9h1v40.9zM493 318.7v-42.0h1v42.0zM494 318.7v-61.2h1v61.2zM495 318.7v-39.3h1v39.3zM496 318.7v-61.6h1v61.6zM497 318.7v-40.0h1v40.0zM498 318.7v-42.1h1v42.1zM499 318.7v-55.4h1v55.4zM500 318.7v-53.7h1v53.7zM501 318.7v-23.9h1v23.9zM502 318.7v-21.6h1v21.6zM503 318.7v-20.6h1v20.6zM504 318.7v-29.0h1v29.0zM505 318.7v-19.4h1v19.4zM506 318.7v-11.3h1v11.3zM507 318.7v-0.6h1v0.6zM508 318.7v-0.6h1v0.6zM509 318.7v-0.6h1v0.6zM510 318.7v-0.6h1v0.6zM511 318.7v-0.6h1v0.6zM512 318.7v-0.6h1v0.6zM513 318.7v-2.6h1v2.6zM514 318.7v-9.0h1v9.0zM515 318.7v-11.8h1v11.8zM516 318.7v-4.1h1v4.1zM517 318.7v-11.3h1v11.3zM518 318.7v-9.3h1v9.3zM519 318.7v-14.6h1v14.6zM520 318.7v-1.8h1v1.8zM521 318.7v-0.6h1v0.6zM522 318.7v-12.7h1v12.7zM523 318.7v-10.6h1v10.6zM524 318.7v-5.0h1v5.0zM525 318.7v-0.6h1v0.6zM526 318.7v-13.6h1v13.6zM527 318.7v-14.5h1v14.5zM528 318.7v-1.7h1v1.7zM529 318.7v-2.8h1v2.8zM530 318.7v-8.0h1v8.0zM531 318.7v-10.8h1v10.8zM532 318.7v-14.3h1v14.3zM533 318.7v-14.6h1v14.6zM534 318.7v-1.8h1v1.8zM535 318.7v-14.0h1v14.0zM536 318.7v-14.7h1v14.7zM537 318.7v-1.5h1v1.5zM538 318.7v-2.0h1v2.0zM539 318.7v-13.2h1v13.2zM540 318.7v-12.3h1v12.3zM541 318.7v-1.6h1v1.6zM542 318.7v-6.5h1v6.5zM543 318.7v-19.6h1v19.6zM544 318.7v-19.2h1v19.2zM545 318.7v-6.0h1v6.0zM546 318.7v-20.6h1v20.6zM547 318.7v-16.6h1v16.6zM548 318.7v-14.1h1v14.1zM549 318.7v-21.7h1v21.7zM550 318.7v-12.7h1v12.7zM551 318.7v-21.3h1v21.3zM552 318.7v-22.7h1v22.7zM553 318.7v-22.9h1v22.9zM554 318.7v-11.7h1v11.7zM555 318.7v-13.0h1v13.0zM556 318.7v-28.7h1v28.7zM557 318.7v-9.7h1v9.7zM558 318.7v-25.2h1v25.2zM559 318.7v-26.3h1v26.3zM560 318.7v-14.4h1v14.4zM561 318.7v-20.7h1v20.7zM562 318.7v-13.5h1v13.5zM563 318.7v-0.6h1v0.6zM564 318.7v-0.6h1v0.6zM565 318.7v-0.6h1v0.6zM566 318.7v-0.6h1v0.6zM567 318.7v-5.8h1v5.8zM568 318.7v-10.0h1v10.0zM569 318.7v-2.0h1v2.0zM570 318.7v-8.6h1v8.6zM571 318.7v-2.4h1v2.4zM572 318.7v-6.4h1v6.4zM573 318.7v-9.6h1v9.6zM574 318.7v-6.9h1v6.9zM575 318.7v-1.8h1v1.8zM576 318.7v-5.7h1v5.7zM577 318.7v-5.1h1v5.1zM578 318.7v-20.1h1v20.1zM579 318.7v-21.1h1v21.1zM580 318.7v-34.2h1v34.2zM581 318.7v-24.9h1v24.9zM582 318.7v-33.7h1v33.7zM583 318.7v-25.9h1v25.9zM584 318.7v-23.9h1v23.9zM585 318.7v-31.6h1v31.6zM586 318.7v-35.8h1v35.8zM587 318.7v-23.1h1v23.1zM588 318.7v-27.1h1v27.1zM589 318.7v-21.6h1v21.6zM590 318.7v-13.0h1v13.0zM591 318.7v-14.9h1v14.9zM592 318.7v-19.4h1v19.4zM593 318.7v-67.4h1v67.4zM594 318.7v-72.6h1v72.6zM595 318.7v-73.8h1v73.8zM596 318.7v-92.0h1v92.0zM597 318.7v-88.3h1v88.3zM598 318.7v-86.8h1v86.8zM599 318.7v-94.7h1v94.7zM600 318.7v-113.6h1v113.6zM601 318.7v-92.4h1v92.4zM602 318.7v-103.7h1v103.7zM603 318.7v-97.5h1v97.5zM604 318.7v-83.5h1v83.5zM605 318.7v-16.3h1v16.3zM606 318.7v-12.7h1v12.7zM607 318.7v-140.7h1v140.7zM608 318.7v-127.1h1v127.1zM609 318.7v-146.6h1v146.6zM610 318.7v-171.2h1v171.2zM611 318.7v-121.8h1v121.8zM612 318.7v-118.1h1v118.1zM613 318.7v-128.7h1v128.7zM614 318.7v-21.0h1v21.0zM615 318.7v-13.3h1v13.3zM616 318.7v-108.5h1v108.5zM617 318.7v-96.4h1v96.4zM618 318.7v-116.2h1v116.2zM619 318.7v-81.8h1v81.8zM620 318.7v-78.7h1v78.7zM621 318.7v-30.7h1v30.7zM622 318.7v-29.3h1v29.3zM623 318.7v-12.9h1v12.9zM624 318.7v-96.4h1v96.4zM625 318.7v-93.7h1v93.7zM626 318.7v-136.3h1v136.3zM627 318.7v-150.7h1v150.7zM628 318.7v-112.4h1v112.4zM629 318.7v-116.2h1v116.2zM630 318.7v-107.2h1v107.2zM631 318.7v-28.3h1v28.3zM632 318.7v-14.3h1v14.3zM633 318.7v-19.8h1v19.8zM634 318.7v-46.6h1v46.6zM635 318.7v-48.7h1v48.7zM636 318.7v-38.5h1v38.5zM637 318.7v-23.1h1v23.1zM638 318.7v-28.5h1v28.5zM639 318.7v-21.5h1v21.5zM640 318.7v-14.6h1v14.6zM641 318.7v-2.4h1v2.4zM642 318.7v-6.0h1v6.0zM643 318.7v-9.8h1v9.8zM644 318.7v-4.5h1v4.5zM645 318.7v-9.0h1v9.0zM646 318.7v-7.2h1v7.2zM647 318.7v-2.7h1v2.7zM648 318.7v-5.5h1v5.5zM649 318.7v-4.9h1v4.9zM650 318.7v-5.5h1v5.5zM651 318.7v-3.5h1v3.5zM652 318.7v-4.2h1v4.2zM653 318.7v-2.4h1v2.4zM654 318.7v-4.0h1v4.0zM655 318.7v-2.4h1v2.4zM656 318.7v-4.3h1v4.3zM657 318.7v-2.8h1v2.8zM658 318.7v-2.9h1v2.9zM659 318.7v-4.7h1v4.7zM660 318.7v-3.8h1v3.8zM661 318.7v-4.9h1v4.9zM662 318.7v-4.9h1v4.9zM663 318.7v-12.0h1v12.0zM664 318.7v-15.8h1v15.8zM665 318.7v-5.5h1v5.5zM666 318.7v-3.0h1v3.0zM667 318.7v-17.3h1v17.3zM668 318.7v-12.3h1v12.3zM669 318.7v-12.6h1v12.6zM670 318.7v-3.0h1v3.0zM671 318.7v-11.3h1v11.3zM672 318.7v-13.7h1v13.7zM673 318.7v-12.8h1v12.8zM674 318.7v-4.8h1v4.8zM675 318.7v-9.7h1v9.7zM676 318.7v-4.8h1v4.8zM677 318.7v-6.5h1v6.5zM678 318.7v-4.8h1v4.8zM679 318.7v-2.5h1v2.5zM680 318.7v-3.8h1v3.8zM681 318.7v-3.7h1v3.7zM682 318.7v-6.3h1v6.3zM683 318.7v-24.2h1v24.2zM684 318.7v-26.6h1v26.6zM685 318.7v-5.5h1v5.5zM686 318.7v-11.1h1v11.1zM687 318.7v-25.5h1v25.5zM688 318.7v-19.3h1v19.3zM689 318.7v-12.4h1v12.4zM690 318.7v-25.0h1v25.0zM691 318.7v-28.9h1v28.9zM692 318.7v-29.1h1v29.1zM693 318.7v-11.5h1v11.5zM694 318.7v-26.1h1v26.1zM695 318.7v-14.6h1v14.6zM696 318.7v-11.3h1v11.3zM697 318.7v-9.0h1v9.0zM698 318.7v-2.2h1v2.2zM699 318.7v-8.4h1v8.4zM700 318.7v-12.2h1v12.2zM701 318.7v-4.3h1v4.3zM702 318.7v-12.1h1v12.1zM703 318.7v-11.5h1v11.5zM704 318.7v-12.3h1v12.3zM705 318.7v-3.7h1v3.7zM706 318.7v-13.4h1v13.4zM707 318.7v-3.7h1v3.7zM708 318.7v-8.6h1v8.6zM709 318.7v-8.5h1v8.5zM710 318.7v-3.1h1v3.1zM711 318.7v-5.7h1v5.7zM712 318.7v-6.5h1v6.5zM713 318.7v-5.8h1v5.8zM714 318.7v-5.2h1v5.2zM715 318.7v-6.7h1v6.7zM716 318.7v-6.4h1v6.4zM717 318.7v-4.2h1v4.2zM718 318.7v-5.3h1v5.3zM719 318.7v-3.8h1v3.8zM720 318.7v-4.6h1v4.6zM721 318.7v-4.3h1v4.3zM722 318.7v-9.5h1v9.5zM723 318.7v-7.9h1v7.9zM724 318.7v-7.3h1v7.3zM725 318.7v-4.7h1v4.7zM726 318.7v-4.8h1v4.8zM727 318.7v-4.6h1v4.6zM728 318.7v-5.0h1v5.0zM729 318.7v-2.8h1v2.8zM730 318.7v-4.1h1v4.1zM731 318.7v-4.0h1v4.0zM732 318.7v-5.1h1v5.1zM733 318.7v-4.0h1v4.0zM734 318.7v-10.9h1v10.9zM735 318.7v-7.3h1v7.3zM736 318.7v-10.9h1v10.9zM737 318.7v-11.3h1v11.3zM738 318.7v-3.9h1v3.9zM739 318.7v-4.2h1v4.2zM740 318.7v-4.7h1v4.7zM741 318.7v-3.2h1v3.2zM742 318.7v-3.3h1v3.3zM743 318.7v-5.3h1v5.3zM744 318.7v-2.8h1v2.8zM745 318.7v-10.1h1v10.1zM746 318.7v-8.2h1v8.2zM747 318.7v-8.1h1v8.1zM748 318.7v-8.1h1v8.1zM749 318.7v-3.5h1v3.5zM750 318.7v-3.1h1v3.1zM751 318.7v-3.1h1v3.1zM752 318.7v-4.1h1v4.1zM753 318.7v-6.3h1v6.3zM754 318.7v-6.2h1v6.2zM755 318.7v-6.0h1v6.0zM756 318.7v-9.1h1v9.1zM757 318.7v-3.4h1v3.4zM758 318.7v-2.5h1v2.5zM759 318.7v-3.9h1v3.9zM760 318.7v-2.3h1v2.3zM761 318.7v-3.4h1v3.4zM762 318.7v-3.6h1v3.6zM763 318.7v-2.1h1v2.1zM764 318.7v-3.2h1v3.2zM765 318.7v-5.5h1v5.5zM766 318.7v-2.7h1v2.7zM767 318.7v-5.1h1v5.1zM768 318.7v-5.3h1v5.3zM769 318.7v-6.0h1v6.0zM770 318.7v-8.7h1v8.7zM771 318.7v-6.7h1v6.7zM772 318.7v-6.1h1v6.1zM773 318.7v-9.5h1v9.5zM774 318.7v-6.3h1v6.3zM775 318.7v-6.0h1v6.0zM776 318.7v-6.2h1v6.2zM777 318.7v-6.2h1v6.2zM778 318.7v-3.3h1v3.3zM779 318.7v-3.2h1v3.2zM780 318.7v-4.9h1v4.9zM781 318.7v-5.1h1v5.1zM782 318.7v-5.4h1v5.4zM783 318.7v-3.1h1v3.1zM784 318.7v-3.1h1v3.1zM785 318.7v-5.1h1v5.1zM786 318.7v-5.8h1v5.8zM787 318.7v-5.2h1v5.2zM788 318.7v-5.0h1v5.0zM789 318.7v-5.4h1v5.4zM790 318.7v-3.4h1v3.4zM791 318.7v-2.0h1v2.0zM792 318.7v-5.0h1v5.0zM793 318.7v-2.4h1v2.4zM794 318.7v-2.9h1v2.9zM795 318.7v-4.0h1v4.0zM796 318.7v-4.3h1v4.3zM797 318.7v-4.6h1v4.6zM798 318.7v-4.4h1v4.4zM799 318.7v-5.4h1v5.4zM800 318.7v-4.6h1v4.6zM801 318.7v-4.6h1v4.6zM802 318.7v-4.3h1v4.3zM803 318.7v-2.5h1v2.5zM804 318.7v-5.0h1v5.0zM805 318.7v-3.9h1v3.9zM806 318.7v-3.5h1v3.5zM807 318.7v-3.8h1v3.8zM808 318.7v-3.2h1v3.2zM809 318.7v-2.9h1v2.9zM810 318.7v-3.0h1v3.0zM811 318.7v-3.1h1v3.1zM812 318.7v-4.5h1v4.5zM813 318.7v-4.4h1v4.4zM814 318.7v-5.3h1v5.3zM815 318.7v-4.8h1v4.8zM816 318.7v-2.2h1v2.2zM817 318.7v-7.2h1v7.2zM818 318.7v-9.5h1v9.5zM819 318.7v-10.4h1v10.4zM820 318.7v-14.8h1v14.8zM821 318.7v-19.1h1v19.1zM822 318.7v-13.4h1v13.4zM823 318.7v-14.3h1v14.3zM824 318.7v-17.1h1v17.1zM825 318.7v-13.2h1v13.2zM826 318.7v-18.8h1v18.8zM827 318.7v-14.8h1v14.8zM828 318.7v-13.0h1v13.0zM829 318.7v-18.9h1v18.9zM830 318.7v-15.1h1v15.1zM831 318.7v-16.5h1v16.5zM832 318.7v-19.1h1v19.1zM833 318.7v-19.4h1v19.4zM834 318.7v-13.8h1v13.8zM835 318.7v-13.0h1v13.0zM836 318.7v-18.3h1v18.3zM837 318.7v-17.2h1v17.2zM838 318.7v-10.0h1v10.0zM839 318.7v-8.9h1v8.9zM840 318.7v-7.3h1v7.3zM841 318.7v-5.4h1v5.4zM842 318.7v-4.2h1v4.2zM843 318.7v-6.5h1v6.5zM844 318.7v-9.8h1v9.8zM845 318.7v-7.8h1v7.8zM846 318.7v-9.6h1v9.6zM847 318.7v-13.0h1v13.0zM848 318.7v-10.1h1v10.1zM849 318.7v-9.2h1v9.2zM850 318.7v-10.2h1v10.2zM851 318.7v-9.0h1v9.0zM852 318.7v-12.5h1v12.5zM853 318.7v-9.7h1v9.7zM854 318.7v-9.6h1v9.6zM855 318.7v-12.0h1v12.0zM856 318.7v-10.1h1v10.1zM857 318.7v-14.3h1v14.3zM858 318.7v-7.7h1v7.7zM859 318.7v-7.3h1v7.3zM860 318.7v-7.6h1v7.6zM861 318.7v-2.7h1v2.7zM862 318.7v-7.3h1v7.3zM863 318.7v-8.3h1v8.3zM864 318.7v-10.0h1v10.0zM865 318.7v-9.6h1v9.6zM866 318.7v-10.9h1v10.9zM867 318.7v-10.0h1v10.0zM868 318.7v-10.0h1v10.0zM869 318.7v-15.2h1v15.2zM870 318.7v-12.4h1v12.4zM871 318.7v-12.8h1v12.8zM872 318.7v-12.1h1v12.1zM873 318.7v-10.0h1v10.0zM874 318.7v-10.5h1v10.5zM875 318.7v-11.0h1v11.0zM876 318.7v-15.6h1v15.6zM877 318.7v-15.8h1v15.8zM878 318.7v-16.1h1v16.1zM879 318.7v-14.5h1v14.5zM880 318.7v-9.0h1v9.0zM881 318.7v-6.8h1v6.8zM882 318.7v-8.4h1v8.4zM883 318.7v-3.7h1v3.7zM884 318.7v-2.4h1v2.4zM885 318.7v-6.0h1v6.0zM886 318.7v-14.8h1v14.8zM887 318.7v-11.2h1v11.2zM888 318.7v-19.9h1v19.9zM889 318.7v-14.5h1v14.5zM890 318.7v-15.0h1v15.0zM891 318.7v-6.1h1v6.1zM892 318.7v-3.0h1v3.0zM893 318.7v-3.9h1v3.9zM894 318.7v-4.3h1v4.3zM895 318.7v-5.0h1v5.0zM896 318.7v-3.4h1v3.4zM897 318.7v-2.7h1v2.7zM898 318.7v-3.4h1v3.4zM899 318.7v-4.5h1v4.5zM900 318.7v-3.4h1v3.4zM901 318.7v-4.8h1v4.8zM902 318.7v-5.0h1v5.0zM903 318.7v-6.7h1v6.7zM904 318.7v-7.7h1v7.7zM905 318.7v-9.6h1v9.6zM906 318.7v-7.7h1v7.7zM907 318.7v-6.8h1v6.8zM908 318.7v-8.4h1v8.4zM909 318.7v-7.2h1v7.2zM910 318.7v-3.5h1v3.5zM911 318.7v-11.8h1v11.8zM912 318.7v-14.0h1v14.0zM913 318.7v-19.5h1v19.5zM914 318.7v-21.1h1v21.1zM915 318.7v-17.0h1v17.0zM916 318.7v-25.5h1v25.5zM917 318.7v-17.2h1v17.2zM918 318.7v-17.9h1v17.9zM919 318.7v-18.5h1v18.5zM920 318.7v-17.0h1v17.0zM921 318.7v-15.8h1v15.8zM922 318.7v-9.9h1v9.9zM923 318.7v-19.6h1v19.6zM924 318.7v-20.0h1v20.0zM925 318.7v-23.1h1v23.1zM926 318.7v-27.8h1v27.8zM927 318.7v-29.2h1v29.2zM928 318.7v-23.6h1v23.6zM929 318.7v-23.0h1v23.0zM930 318.7v-46.0h1v46.0zM931 318.7v-42.7h1v42.7zM932 318.7v-39.7h1v39.7zM933 318.7v-39.2h1v39.2zM934 318.7v-21.9h1v21.9zM935 318.7v-19.2h1v19.2zM936 318.7v-17.5h1v17.5zM937 318.7v-5.6h1v5.6zM938 318.7v-9.5h1v9.5zM939 318.7v-11.7h1v11.7zM940 318.7v-12.3h1v12.3zM941 318.7v-12.9h1v12.9zM942 318.7v-15.9h1v15.9zM943 318.7v-10.0h1v10.0zM944 318.7v-13.0h1v13.0zM945 318.7v-17.2h1v17.2zM946 318.7v-17.6h1v17.6zM947 318.7v-22.7h1v22.7zM948 318.7v-23.3h1v23.3zM949 318.7v-25.1h1v25.1zM950 318.7v-52.9h1v52.9zM951 318.7v-55.7h1v55.7zM952 318.7v-76.4h1v76.4zM953 318.7v-88.7h1v88.7zM954 318.7v-74.4h1v74.4zM955 318.7v-73.6h1v73.6zM956 318.7v-84.0h1v84.0zM957 318.7v-41.0h1v41.0zM958 318.7v-36.8h1v36.8zM959 318.7v-47.5h1v47.5zM960 318.7v-43.9h1v43.9zM961 318.7v-52.1h1v52.1zM962 318.7v-25.4h1v25.4zM963 318.7v-27.7h1v27.7zM964 318.7v-26.3h1v26.3zM965 318.7v-17.0h1v17.0zM966 318.7v-14.6h1v14.6zM967 318.7v-4.5h1v4.5zM968 318.7v-7.1h1v7.1zM969 318.7v-11.5h1v11.5zM970 318.7v-10.5h1v10.5zM971 318.7v-11.3h1v11.3zM972 318.7v-11.1h1v11.1zM973 318.7v-8.9h1v8.9zM974 318.7v-3.3h1v3.3zM975 318.7v-9.2h1v9.2zM976 318.7v-10.6h1v10.6zM977 318.7v-14.0h1v14.0zM978 318.7v-16.3h1v16.3zM979 318.7v-13.0h1v13.0zM980 318.7v-13.0h1v13.0zM981 318.7v-17.4h1v17.4zM982 318.7v-21.0h1v21.0zM983 318.7v-18.3h1v18.3zM984 318.7v-10.4h1v10.4zM985 318.7v-8.2h1v8.2zM986 318.7v-6.7h1v6.7zM987 318.7v-9.1h1v9.1zM988 318.7v-9.5h1v9.5zM989 318.7v-14.0h1v14.0zM990 318.7v-11.3h1v11.3zM991 318.7v-5.0h1v5.0zM992 318.7v-7.7h1v7.7zM993 318.7v-9.1h1v9.1zM994 318.7v-15.1h1v15.1zM995 318.7v-13.1h1v13.1zM996 318.7v-16.7h1v16.7zM997 318.7v-11.5h1v11.5zM998 318.7v-11.8h1v11.8zM999 318.7v-11.4h1v11.4zM1000 318.7v-11.0h1v11.0zM1001 318.7v-11.5h1v11.5zM1002 318.7v-10.4h1v10.4zM1003 318.7v-7.5h1v7.5zM1004 318.7v-4.5h1v4.5zM1005 318.7v-2.8h1v2.8zM1006 318.7v-2.6h1v2.6zM1007 318.7v-4.8h1v4.8zM1008 318.7v-2.9h1v2.9zM1009 318.7v-3.3h1v3.3zM1010 318.7v-5.3h1v5.3zM1011 318.7v-3.0h1v3.0zM1012 318.7v-5.3h1v5.3zM1013 318.7v-9.9h1v9.9zM1014 318.7v-10.9h1v10.9zM1015 318.7v-9.3h1v9.3zM1016 318.7v-9.2h1v9.2zM1017 318.7v-10.3h1v10.3zM1018 318.7v-9.0h1v9.0zM1019 318.7v-9.2h1v9.2zM1020 318.7v-11.8h1v11.8zM1021 318.7v-9.1h1v9.1zM1022 318.7v-14.3h1v14.3zM1023 318.7v-9.0h1v9.0zM1024 318.7v-14.5h1v14.5zM1025 318.7v-9.9h1v9.9zM1026 318.7v-10.7h1v10.7zM1027 318.7v-12.4h1v12.4zM1028 318.7v-10.6h1v10.6zM1029 318.7v-12.7h1v12.7zM1030 318.7v-23.2h1v23.2zM1031 318.7v-26.6h1v26.6zM1032 318.7v-23.2h1v23.2zM1033 318.7v-27.9h1v27.9zM1034 318.7v-33.1h1v33.1zM1035 318.7v-19.0h1v19.0zM1036 318.7v-19.2h1v19.2zM1037 318.7v-27.2h1v27.2zM1038 318.7v-22.2h1v22.2zM1039 318.7v-22.9h1v22.9zM1040 318.7v-10.8h1v10.8zM1041 318.7v-7.3h1v7.3zM1042 318.7v-12.8h1v12.8zM1043 318.7v-16.8h1v16.8zM1044 318.7v-12.6h1v12.6zM1045 318.7v-13.8h1v13.8zM1046 318.7v-15.3h1v15.3zM1047 318.7v-7.1h1v7.1zM1048 318.7v-6.6h1v6.6zM1049 318.7v-10.7h1v10.7zM1050 318.7v-17.5h1v17.5zM1051 318.7v-15.6h1v15.6zM1052 318.7v-15.9h1v15.9zM1053 318.7v-12.1h1v12.1zM1054 318.7v-10.5h1v10.5zM1055 318.7v-9.4h1v9.4zM1056 318.7v-6.2h1v6.2zM1057 318.7v-6.1h1v6.1zM1058 318.7v-11.1h1v11.1zM1059 318.7v-9.7h1v9.7zM1060 318.7v-8.3h1v8.3zM1061 318.7v-9.6h1v9.6zM1062 318.7v-8.0h1v8.0zM1063 318.7v-7.1h1v7.1zM1064 318.7v-4.5h1v4.5zM1065 318.7v-4.4h1v4.4zM1066 318.7v-5.4h1v5.4zM1067 318.7v-8.3h1v8.3zM1068 318.7v-9.2h1v9.2zM1069 318.7v-11.2h1v11.2zM1070 318.7v-7.4h1v7.4zM1071 318.7v-7.0h1v7.0zM1072 318.7v-7.6h1v7.6zM1073 318.7v-9.1h1v9.1zM1074 318.7v-10.7h1v10.7zM1075 318.7v-8.5h1v8.5zM1076 318.7v-7.0h1v7.0zM1077 318.7v-7.6h1v7.6zM1078 318.7v-8.2h1v8.2zM1079 318.7v-7.1h1v7.1zM1080 318.7v-5.3h1v5.3zM1081 318.7v-3.8h1v3.8zM1082 318.7v-3.4h1v3.4zM1083 318.7v-4.7h1v4.7zM1084 318.7v-7.5h1v7.5zM1085 318.7v-8.0h1v8.0zM1086 318.7v-11.1h1v11.1zM1087 318.7v-8.2h1v8.2zM1088 318.7v-8.9h1v8.9zM1089 318.7v-7.9h1v7.9zM1090 318.7v-7.9h1v7.9zM1091 318.7v-6.4h1v6.4zM1092 318.7v-6.0h1v6.0zM1093 318.7v-5.1h1v5.1zM1094 318.7v-5.7h1v5.7zM1095 318.7v-5.1h1v5.1zM1096 318.7v-6.5h1v6.5zM1097 318.7v-6.9h1v6.9zM1098 318.7v-3.9h1v3.9zM1099 318.7v-2.1h1v2.1zM1100 318.7v-9.7h1v9.7zM1101 318.7v-10.9h1v10.9zM1102 318.7v-16.8h1v16.8zM1103 318.7v-12.4h1v12.4zM1104 318.7v-13.0h1v13.0zM1105 318.7v-11.5h1v11.5zM1106 318.7v-12.2h1v12.2zM1107 318.7v-11.5h1v11.5zM1108 318.7v-10.0h1v10.0zM1109 318.7v-7.8h1v7.8zM1110 318.7v-3.6h1v3.6zM1111 318.7v-5.1h1v5.1zM1112 318.7v-9.5h1v9.5zM1113 318.7v-13.6h1v13.6zM1114 318.7v-11.1h1v11.1zM1115 318.7v-6.2h1v6.2zM1116 318.7v-12.8h1v12.8zM1117 318.7v-11.2h1v11.2zM1118 318.7v-10.8h1v10.8zM1119 318.7v-12.0h1v12.0zM1120 318.7v-13.1h1v13.1zM1121 318.7v-13.2h1v13.2zM1122 318.7v-10.8h1v10.8zM1123 318.7v-15.5h1v15.5zM1124 318.7v-11.5h1v11.5zM1125 318.7v-13.5h1v13.5zM1126 318.7v-6.4h1v6.4zM1127 318.7v-4.5h1v4.5zM1128 318.7v-5.0h1v5.0zM1129 318.7v-8.5h1v8.5zM1130 318.7v-9.2h1v9.2zM1131 318.7v-11.1h1v11.1zM1132 318.7v-8.2h1v8.2zM1133 318.7v-5.4h1v5.4zM1134 318.7v-6.1h1v6.1zM1135 318.7v-5.5h1v5.5zM1136 318.7v-8.4h1v8.4zM1137 318.7v-10.2h1v10.2zM1138 318.7v-8.7h1v8.7zM1139 318.7v-10.7h1v10.7zM1140 318.7v-9.1h1v9.1zM1141 318.7v-7.0h1v7.0zM1142 318.7v-7.4h1v7.4zM1143 318.7v-7.2h1v7.2zM1144 318.7v-5.6h1v5.6zM1145 318.7v-5.9h1v5.9zM1146 318.7v-2.8h1v2.8zM1147 318.7v-4.6h1v4.6zM1148 318.7v-4.3h1v4.3zM1149 318.7v-3.0h1v3.0zM1150 318.7v-5.2h1v5.2zM1151 318.7v-2.7h1v2.7zM1152 318.7v-3.9h1v3.9zM1153 318.7v-7.8h1v7.8zM1154 318.7v-9.6h1v9.6zM1155 318.7v-7.0h1v7.0zM1156 318.7v-8.3h1v8.3zM1157 318.7v-7.0h1v7.0zM1158 318.7v-10.6h1v10.6zM1159 318.7v-7.2h1v7.2zM1160 318.7v-8.1h1v8.1zM1161 318.7v-9.3h1v9.3zM1162 318.7v-9.5h1v9.5zM1163 318.7v-8.0h1v8.0zM1164 318.7v-7.0h1v7.0zM1165 318.7v-6.5h1v6.5zM1166 318.7v-5.0h1v5.0zM1167 318.7v-3.9h1v3.9zM1168 318.7v-0.6h1v0.6zM1169 318.7v-0.6h1v0.6zM1170 318.7v-0.6h1v0.6zM1171 318.7v-2.9h1v2.9zM1172 318.7v-2.6h1v2.6zM1173 318.7v-2.4h1v2.4zM1174 318.7v-2.7h1v2.7zM1175 318.7v-0.6h1v0.6zM1176 318.7v-0.6h1v0.6zM1177 318.7v-0.6h1v0.6zM1178 318.7v-0.6h1v0.6zM1179 318.7v-0.6h1v0.6zM1180 318.7v-0.6h1v0.6zM1181 318.7v-2.0h1v2.0zM1182 318.7v-5.9h1v5.9zM1183 318.7v-3.5h1v3.5zM1184 318.7v-3.5h1v3.5zM1185 318.7v-1.9h1v1.9zM1186 318.7v-0.6h1v0.6zM1187 318.7v-0.6h1v0.6zM1188 318.7v-0.6h1v0.6zM1189 318.7v-0.6h1v0.6zM1190 318.7v-0.6h1v0.6zM1191 318.7v-0.6h1v0.6zM1192 318.7v-2.8h1v2.8zM1193 318.7v-3.5h1v3.5z" fill="#1a9e65"/>
<path d="M78.5 315.5 L79.5 316.3 L80.5 316.3 L81.5 300.3 L82.5 279.9 L83.5 263.5 L84.5 279.0 L85.5 293.1 L86.5 270.1 L87.5 234.8 L88.5 220.1 L89.5 254.1 L90.5 278.0 L91.5 292.1 L92.5 288.5 L93.5 298.8 L94.5 313.2 L95.5 324.4 L96.5 326.4 L97.5 314.3 L98.5 311.3 L99.5 311.8 L100.5 313.9 L101.5 320.3 L102.5 346.0 L103.5 357.6 L104.5 357.9 L105.5 340.0 L106.5 333.4 L107.5 326.8 L108.5 314.0 L109.5 305.9 L110.5 301.4 L111.5 299.2 L112.5 300.1 L113.5 295.9 L114.5 301.9 L115.5 306.1 L116.5 317.2 L117.5 322.9 L118.5 320.8 L119.5 316.0 L120.5 305.2 L121.5 305.9 L122.5 306.1 L123.5 308.2 L124.5 308.7 L125.5 309.2 L126.5 318.0 L127.5 305.2 L128.5 298.0 L129.5 291.2 L130.5 292.1 L131.5 298.6 L132.5 303.6 L133.5 308.3 L134.5 298.7 L135.5 292.4 L136.5 301.1 L137.5 314.7 L138.5 315.1 L139.5 312.4 L140.5 306.0 L141.5 307.0 L142.5 307.0 L143.5 312.2 L144.5 312.9 L145.5 315.5 L146.5 309.1 L147.5 302.4 L148.5 300.1 L149.5 293.8 L150.5 295.9 L151.5 305.1 L152.5 320.4 L153.5 330.8 L154.5 320.2 L155.5 327.6 L156.5 326.1 L157.5 333.9 L158.5 320.5 L159.5 311.8 L160.5 317.4 L161.5 315.0 L162.5 316.1 L163.5 303.7 L164.5 296.4 L165.5 294.2 L166.5 295.3 L167.5 305.5 L168.5 305.1 L169.5 304.7 L170.5 306.9 L171.5 318.0 L172.5 334.3 L173.5 340.6 L174.5 338.1 L175.5 323.8 L176.5 320.8 L177.5 327.1 L178.5 329.9 L179.5 331.8 L180.5 321.3 L181.5 314.3 L182.5 303.0 L183.5 303.9 L184.5 304.5 L185.5 310.3 L186.5 300.3 L187.5 294.7 L188.5 282.6 L189.5 292.6 L190.5 286.6 L191.5 286.5 L192.5 277.2 L193.5 298.0 L194.5 301.4 L195.5 297.3 L196.5 276.5 L197.5 272.8 L198.5 281.4 L199.5 308.1 L200.5 325.6 L201.5 339.9 L202.5 330.3 L203.5 342.3 L204.5 341.1 L205.5 345.5 L206.5 332.8 L207.5 333.9 L208.5 329.9 L209.5 322.4 L210.5 307.1 L211.5 302.7 L212.5 299.2 L213.5 321.4 L214.5 328.0 L215.5 324.1 L216.5 303.1 L217.5 291.8 L218.5 302.1 L219.5 298.1 L220.5 299.0 L221.5 295.5 L222.5 296.7 L223.5 300.2 L224.5 317.0 L225.5 329.6 L226.5 335.1 L227.5 335.1 L228.5 335.1 L229.5 336.5 L230.5 319.0 L231.5 309.0 L232.5 302.3 L233.5 308.1 L234.5 310.2 L235.5 305.1 L236.5 290.3 L237.5 292.9 L238.5 289.7 L239.5 296.1 L240.5 306.7 L241.5 308.8 L242.5 319.7 L243.5 320.7 L244.5 334.4 L245.5 335.3 L246.5 334.3 L247.5 317.5 L248.5 312.3 L249.5 294.3 L250.5 293.0 L251.5 292.1 L252.5 292.9 L253.5 296.5 L254.5 284.2 L255.5 282.6 L256.5 276.5 L257.5 307.5 L258.5 315.6 L259.5 316.4 L260.5 310.4 L261.5 301.4 L262.5 305.7 L263.5 288.0 L264.5 293.7 L265.5 312.6 L266.5 323.1 L267.5 337.5 L268.5 335.5 L269.5 320.3 L270.5 309.8 L271.5 313.4 L272.5 329.6 L273.5 336.5 L274.5 328.7 L275.5 322.5 L276.5 316.1 L277.5 313.3 L278.5 314.8 L279.5 311.7 L280.5 314.7 L281.5 323.6 L282.5 332.5 L283.5 331.9 L284.5 329.3 L285.5 330.0 L286.5 330.3 L287.5 334.9 L288.5 333.6 L289.5 333.9 L290.5 330.3 L291.5 328.6 L292.5 327.8 L293.5 321.7 L294.5 318.1 L295.5 307.7 L296.5 301.6 L297.5 301.0 L298.5 297.5 L299.5 297.5 L300.5 295.2 L301.5 306.7 L302.5 314.1 L303.5 319.9 L304.5 320.4 L305.5 319.8 L306.5 320.1 L307.5 319.1 L308.5 317.9 L309.5 317.9 L310.5 323.0 L311.5 325.9 L312.5 326.7 L313.5 330.7 L314.5 331.1 L315.5 328.7 L316.5 320.5 L317.5 317.8 L318.5 317.8 L319.5 317.9 L320.5 318.4 L321.5 319.1 L322.5 319.2 L323.5 316.7 L324.5 313.0 L325.5 311.0 L326.5 312.7 L327.5 317.3 L328.5 323.7 L329.5 325.7 L330.5 325.5 L331.5 323.7 L332.5 322.9 L333.5 322.2 L334.5 320.2 L335.5 319.1 L336.5 319.1 L337.5 319.4 L338.5 320.0 L339.5 321.2 L340.5 320.8 L341.5 320.1 L342.5 318.3 L343.5 317.9 L344.5 318.0 L345.5 318.0 L346.5 317.1 L347.5 316.0 L348.5 317.1 L349.5 316.8 L350.5 316.6 L351.5 315.3 L352.5 315.0 L353.5 314.9 L354.5 315.2 L355.5 315.6 L356.5 314.7 L357.5 321.4 L358.5 325.1 L359.5 331.1 L360.5 326.6 L361.5 330.6 L362.5 328.5 L363.5 329.7 L364.5 328.2 L365.5 328.2 L366.5 325.8 L367.5 320.4 L368.5 320.4 L369.5 323.5 L370.5 324.8 L371.5 322.9 L372.5 321.0 L373.5 320.7 L374.5 322.4 L375.5 325.0 L376.5 327.1 L377.5 326.4 L378.5 323.4 L379.5 320.3 L380.5 319.5 L381.5 317.3 L382.5 317.6 L383.5 317.4 L384.5 317.6 L385.5 317.5 L386.5 317.4 L387.5 317.5 L388.5 317.6 L389.5 319.6 L390.5 320.4 L391.5 320.9 L392.5 321.2 L393.5 320.5 L394.5 320.8 L395.5 320.9 L396.5 320.8 L397.5 320.1 L398.5 320.1 L399.5 326.1 L400.5 322.0 L401.5 315.2 L402.5 306.1 L403.5 309.0 L404.5 312.6 L405.5 313.5 L406.5 318.3 L407.5 321.3 L408.5 329.7 L409.5 333.8 L410.5 334.7 L411.5 338.9 L412.5 336.1 L413.5 324.2 L414.5 311.3 L415.5 304.4 L416.5 305.5 L417.5 289.0 L418.5 283.3 L419.5 280.3 L420.5 296.4 L421.5 305.0 L422.5 313.6 L423.5 302.7 L424.5 293.3 L425.5 271.2 L426.5 278.6 L427.5 278.6 L428.5 291.0 L429.5 291.4 L430.5 291.0 L431.5 300.8 L432.5 309.7 L433.5 319.3 L434.5 321.4 L435.5 318.6 L436.5 317.1 L437.5 312.4 L438.5 301.9 L439.5 299.6 L440.5 295.0 L441.5 301.4 L442.5 302.7 L443.5 312.0 L444.5 316.1 L445.5 318.7 L446.5 320.7 L447.5 317.9 L448.5 315.0 L449.5 310.5 L450.5 313.0 L451.5 312.8 L452.5 314.5 L453.5 316.3 L454.5 324.1 L455.5 327.0 L456.5 327.2 L457.5 323.5 L458.5 321.2 L459.5 319.4 L460.5 315.3 L461.5 315.3 L462.5 313.0 L463.5 319.2 L464.5 312.9 L465.5 313.2 L466.5 305.2 L467.5 308.2 L468.5 309.9 L469.5 314.1 L470.5 315.3 L471.5 314.8 L472.5 317.8 L473.5 320.9 L474.5 321.8 L475.5 318.7 L476.5 317.2 L477.5 317.3 L478.5 316.3 L479.5 316.0 L480.5 319.6 L481.5 319.1 L482.5 317.5 L483.5 309.4 L484.5 307.0 L485.5 306.7 L486.5 307.5 L487.5 308.3 L488.5 308.5 L489.5 307.9 L490.5 305.0 L491.5 299.5 L492.5 292.4 L493.5 286.0 L494.5 286.3 L495.5 285.2 L496.5 289.6 L497.5 280.0 L498.5 281.3 L499.5 278.4 L500.5 291.2 L501.5 292.3 L502.5 299.2 L503.5 298.1 L504.5 304.4 L505.5 322.6 L506.5 392.9 L507.5 411.8 L508.5 403.5 L509.5 344.9 L510.5 336.8 L511.5 343.7 L512.5 341.2 L513.5 337.8 L514.5 330.8 L515.5 330.1 L516.5 334.5 L517.5 332.9 L518.5 334.7 L519.5 330.8 L520.5 328.7 L521.5 321.7 L522.5 315.7 L523.5 315.2 L524.5 321.5 L525.5 320.9 L526.5 316.5 L527.5 312.5 L528.5 316.2 L529.5 321.8 L530.5 320.0 L531.5 309.3 L532.5 303.6 L533.5 305.5 L534.5 312.4 L535.5 312.4 L536.5 312.5 L537.5 314.9 L538.5 315.2 L539.5 313.0 L540.5 313.1 L541.5 314.5 L542.5 313.0 L543.5 309.4 L544.5 309.5 L545.5 309.2 L546.5 309.8 L547.5 308.1 L548.5 296.4 L549.5 297.2 L550.5 290.0 L551.5 301.3 L552.5 299.2 L553.5 306.9 L554.5 301.2 L555.5 300.0 L556.5 296.0 L557.5 301.1 L558.5 301.6 L559.5 301.9 L560.5 302.8 L561.5 305.4 L562.5 312.5 L563.5 318.9 L564.5 322.5 L565.5 322.7 L566.5 319.4 L567.5 316.5 L568.5 315.0 L569.5 314.4 L570.5 317.4 L571.5 316.5 L572.5 316.3 L573.5 314.0 L574.5 314.9 L575.5 315.7 L576.5 316.1 L577.5 312.3 L578.5 309.1 L579.5 300.6 L580.5 299.6 L581.5 297.0 L582.5 301.2 L583.5 301.4 L584.5 292.0 L585.5 290.0 L586.5 290.2 L587.5 295.4 L588.5 298.4 L589.5 300.5 L590.5 308.5 L591.5 308.9 L592.5 297.7 L593.5 285.8 L594.5 268.6 L595.5 263.5 L596.5 260.3 L597.5 257.4 L598.5 256.9 L599.5 246.0 L600.5 251.0 L601.5 249.1 L602.5 258.0 L603.5 259.9 L604.5 277.9 L605.5 295.5 L606.5 283.6 L607.5 248.6 L608.5 212.9 L609.5 206.6 L610.5 219.8 L611.5 221.7 L612.5 230.5 L613.5 251.3 L614.5 285.0 L615.5 289.2 L616.5 273.6 L617.5 252.4 L618.5 257.9 L619.5 261.5 L620.5 279.2 L621.5 290.0 L622.5 303.6 L623.5 290.1 L624.5 269.5 L625.5 244.0 L626.5 232.8 L627.5 236.2 L628.5 240.3 L629.5 249.3 L630.5 260.4 L631.5 281.5 L632.5 299.5 L633.5 302.0 L634.5 294.9 L635.5 291.1 L636.5 291.7 L637.5 295.8 L638.5 317.0 L639.5 323.0 L640.5 333.3 L641.5 321.6 L642.5 322.6 L643.5 317.2 L644.5 317.7 L645.5 324.1 L646.5 327.1 L647.5 324.1 L648.5 322.0 L649.5 325.9 L650.5 336.1 L651.5 337.2 L652.5 333.3 L653.5 329.4 L654.5 328.3 L655.5 327.7 L656.5 325.9 L657.5 325.8 L658.5 325.7 L659.5 327.8 L660.5 327.4 L661.5 325.1 L662.5 317.2 L663.5 312.0 L664.5 311.8 L665.5 313.7 L666.5 313.3 L667.5 311.9 L668.5 310.0 L669.5 312.9 L670.5 313.1 L671.5 308.3 L672.5 306.2 L673.5 307.6 L674.5 313.1 L675.5 314.7 L676.5 314.4 L677.5 320.0 L678.5 323.0 L679.5 323.6 L680.5 319.2 L681.5 315.9 L682.5 311.6 L683.5 306.9 L684.5 307.1 L685.5 309.8 L686.5 302.9 L687.5 300.0 L688.5 299.8 L689.5 304.7 L690.5 302.7 L691.5 299.2 L692.5 296.5 L693.5 297.1 L694.5 300.1 L695.5 307.9 L696.5 311.5 L697.5 314.0 L698.5 314.7 L699.5 319.4 L700.5 329.2 L701.5 328.4 L702.5 323.1 L703.5 311.3 L704.5 313.0 L705.5 312.6 L706.5 314.4 L707.5 313.4 L708.5 314.4 L709.5 314.5 L710.5 315.1 L711.5 319.5 L712.5 321.8 L713.5 321.9 L714.5 320.8 L715.5 317.8 L716.5 322.5 L717.5 323.0 L718.5 325.4 L719.5 320.9 L720.5 317.9 L721.5 314.9 L722.5 314.2 L723.5 313.6 L724.5 314.6 L725.5 315.2 L726.5 318.1 L727.5 318.1 L728.5 318.5 L729.5 318.6 L730.5 318.8 L731.5 320.5 L732.5 318.2 L733.5 316.7 L734.5 314.1 L735.5 312.7 L736.5 312.6 L737.5 313.3 L738.5 314.7 L739.5 316.1 L740.5 317.5 L741.5 320.4 L742.5 320.2 L743.5 319.0 L744.5 314.9 L745.5 314.3 L746.5 313.3 L747.5 313.7 L748.5 314.6 L749.5 319.2 L750.5 320.2 L751.5 320.1 L752.5 319.3 L753.5 318.6 L754.5 318.2 L755.5 314.3 L756.5 317.1 L757.5 319.5 L758.5 324.8 L759.5 324.3 L760.5 325.7 L761.5 323.2 L762.5 323.2 L763.5 322.9 L764.5 321.0 L765.5 319.4 L766.5 316.0 L767.5 316.0 L768.5 315.3 L769.5 314.6 L770.5 314.3 L771.5 314.3 L772.5 314.1 L773.5 314.2 L774.5 314.2 L775.5 314.9 L776.5 314.9 L777.5 315.5 L778.5 317.9 L779.5 322.3 L780.5 324.4 L781.5 326.0 L782.5 324.5 L783.5 325.2 L784.5 324.1 L785.5 321.4 L786.5 321.1 L787.5 321.1 L788.5 321.2 L789.5 318.7 L790.5 318.2 L791.5 318.3 L792.5 318.5 L793.5 316.6 L794.5 316.8 L795.5 318.3 L796.5 318.0 L797.5 317.9 L798.5 315.7 L799.5 315.7 L800.5 315.7 L801.5 315.9 L802.5 316.3 L803.5 320.3 L804.5 350.7 L805.5 353.7 L806.5 349.9 L807.5 319.8 L808.5 316.7 L809.5 316.8 L810.5 318.8 L811.5 318.4 L812.5 320.6 L813.5 321.6 L814.5 324.0 L815.5 324.5 L816.5 326.4 L817.5 323.1 L818.5 318.9 L819.5 311.5 L820.5 309.5 L821.5 308.9 L822.5 306.0 L823.5 306.5 L824.5 306.5 L825.5 308.6 L826.5 309.0 L827.5 309.1 L828.5 309.0 L829.5 309.0 L830.5 308.2 L831.5 308.2 L832.5 307.3 L833.5 307.9 L834.5 305.1 L835.5 305.4 L836.5 304.7 L837.5 309.3 L838.5 311.2 L839.5 313.3 L840.5 314.2 L841.5 318.5 L842.5 337.6 L843.5 341.1 L844.5 337.1 L845.5 317.5 L846.5 312.4 L847.5 311.9 L848.5 312.0 L849.5 312.6 L850.5 312.8 L851.5 312.2 L852.5 312.3 L853.5 312.1 L854.5 312.2 L855.5 312.1 L856.5 311.2 L857.5 312.1 L858.5 312.6 L859.5 320.0 L860.5 323.2 L861.5 323.2 L862.5 317.1 L863.5 313.4 L864.5 312.9 L865.5 312.4 L866.5 312.4 L867.5 312.3 L868.5 311.4 L869.5 310.9 L870.5 310.4 L871.5 311.0 L872.5 311.5 L873.5 312.0 L874.5 312.2 L875.5 311.0 L876.5 309.9 L877.5 308.9 L878.5 309.1 L879.5 310.5 L880.5 315.4 L881.5 316.7 L882.5 317.8 L883.5 315.7 L884.5 316.2 L885.5 313.9 L886.5 312.1 L887.5 309.2 L888.5 309.3 L889.5 308.5 L890.5 314.8 L891.5 318.6 L892.5 320.9 L893.5 317.8 L894.5 316.0 L895.5 316.1 L896.5 316.4 L897.5 316.7 L898.5 316.5 L899.5 316.4 L900.5 316.1 L901.5 316.0 L902.5 315.3 L903.5 314.7 L904.5 313.7 L905.5 313.5 L906.5 313.7 L907.5 314.0 L908.5 314.1 L909.5 317.2 L910.5 316.5 L911.5 315.1 L912.5 309.3 L913.5 307.4 L914.5 306.8 L915.5 305.6 L916.5 301.5 L917.5 301.3 L918.5 302.8 L919.5 307.6 L920.5 308.1 L921.5 309.9 L922.5 309.3 L923.5 308.4 L924.5 305.7 L925.5 304.0 L926.5 302.2 L927.5 299.4 L928.5 300.4 L929.5 296.9 L930.5 292.6 L931.5 289.1 L932.5 286.5 L933.5 293.8 L934.5 298.1 L935.5 306.6 L936.5 310.0 L937.5 312.0 L938.5 313.2 L939.5 311.8 L940.5 311.1 L941.5 310.2 L942.5 310.7 L943.5 310.7 L944.5 310.4 L945.5 308.8 L946.5 306.8 L947.5 305.6 L948.5 304.0 L949.5 297.8 L950.5 286.3 L951.5 275.7 L952.5 268.3 L953.5 264.2 L954.5 264.8 L955.5 265.7 L956.5 277.6 L957.5 285.3 L958.5 292.8 L959.5 288.1 L960.5 285.0 L961.5 289.5 L962.5 297.0 L963.5 302.3 L964.5 304.0 L965.5 306.7 L966.5 313.4 L967.5 315.4 L968.5 316.0 L969.5 312.7 L970.5 311.8 L971.5 311.9 L972.5 312.2 L973.5 313.9 L974.5 314.3 L975.5 313.9 L976.5 309.5 L977.5 308.0 L978.5 307.5 L979.5 310.0 L980.5 308.2 L981.5 306.5 L982.5 305.4 L983.5 308.4 L984.5 311.1 L985.5 313.5 L986.5 313.8 L987.5 313.5 L988.5 308.9 L989.5 308.5 L990.5 309.4 L991.5 313.8 L992.5 314.2 L993.5 312.1 L994.5 311.0 L995.5 309.4 L996.5 310.2 L997.5 310.4 L998.5 311.5 L999.5 317.3 L1000.5 317.3 L1001.5 315.3 L1002.5 310.4 L1003.5 311.8 L1004.5 315.6 L1005.5 316.7 L1006.5 316.6 L1007.5 316.6 L1008.5 316.4 L1009.5 319.5 L1010.5 321.1 L1011.5 320.7 L1012.5 316.6 L1013.5 313.3 L1014.5 312.5 L1015.5 312.6 L1016.5 312.7 L1017.5 312.8 L1018.5 312.8 L1019.5 312.5 L1020.5 312.5 L1021.5 311.4 L1022.5 312.0 L1023.5 310.9 L1024.5 311.8 L1025.5 311.5 L1026.5 311.9 L1027.5 304.4 L1028.5 304.0 L1029.5 301.7 L1030.5 303.7 L1031.5 301.5 L1032.5 300.5 L1033.5 301.3 L1034.5 302.2 L1035.5 304.0 L1036.5 294.3 L1037.5 291.4 L1038.5 290.6 L1039.5 304.9 L1040.5 310.2 L1041.5 312.3 L1042.5 311.1 L1043.5 310.0 L1044.5 309.8 L1045.5 310.1 L1046.5 311.2 L1047.5 312.7 L1048.5 313.6 L1049.5 308.3 L1050.5 306.4 L1051.5 305.4 L1052.5 309.7 L1053.5 310.8 L1054.5 312.1 L1055.5 313.3 L1056.5 314.2 L1057.5 313.9 L1058.5 313.1 L1059.5 312.7 L1060.5 313.0 L1061.5 311.1 L1062.5 314.3 L1063.5 315.3 L1064.5 318.4 L1065.5 315.7 L1066.5 315.0 L1067.5 314.0 L1068.5 312.8 L1069.5 313.0 L1070.5 313.4 L1071.5 314.2 L1072.5 313.8 L1073.5 313.0 L1074.5 312.9 L1075.5 313.3 L1076.5 313.9 L1077.5 314.0 L1078.5 314.0 L1079.5 314.4 L1080.5 315.3 L1081.5 316.1 L1082.5 316.2 L1083.5 315.5 L1084.5 314.5 L1085.5 313.2 L1086.5 313.1 L1087.5 312.9 L1088.5 313.5 L1089.5 313.6 L1090.5 314.1 L1091.5 314.5 L1092.5 317.5 L1093.5 317.7 L1094.5 317.9 L1095.5 315.1 L1096.5 314.9 L1097.5 315.1 L1098.5 317.2 L1099.5 316.6 L1100.5 315.2 L1101.5 311.0 L1102.5 310.4 L1103.5 310.0 L1104.5 309.5 L1105.5 309.6 L1106.5 309.9 L1107.5 311.8 L1108.5 312.7 L1109.5 316.0 L1110.5 317.0 L1111.5 316.7 L1112.5 312.9 L1113.5 311.7 L1114.5 312.3 L1115.5 312.5 L1116.5 311.1 L1117.5 310.1 L1118.5 310.2 L1119.5 309.5 L1120.5 309.0 L1121.5 309.2 L1122.5 310.5 L1123.5 310.9 L1124.5 310.3 L1125.5 312.2 L1126.5 313.7 L1127.5 315.4 L1128.5 315.0 L1129.5 314.0 L1130.5 312.8 L1131.5 312.8 L1132.5 310.9 L1133.5 311.9 L1134.5 312.5 L1135.5 314.6 L1136.5 313.7 L1137.5 313.1 L1138.5 312.6 L1139.5 312.8 L1140.5 313.2 L1141.5 313.8 L1142.5 314.2 L1143.5 314.5 L1144.5 314.8 L1145.5 315.8 L1146.5 316.0 L1147.5 316.3 L1148.5 316.3 L1149.5 316.1 L1150.5 316.5 L1151.5 316.3 L1152.5 315.7 L1153.5 314.3 L1154.5 313.7 L1155.5 313.6 L1156.5 314.1 L1157.5 313.3 L1158.5 313.6 L1159.5 313.3 L1160.5 313.6 L1161.5 313.1 L1162.5 313.2 L1163.5 313.6 L1164.5 314.3 L1165.5 314.9 L1166.5 317.9 L1167.5 324.6 L1168.5 327.6 L1169.5 326.6 L1170.5 321.9 L1171.5 321.9 L1172.5 322.7 L1173.5 324.9 L1174.5 325.6 L1175.5 325.7 L1176.5 323.5 L1177.5 323.9 L1178.5 324.1 L1179.5 326.4 L1180.5 324.4 L1181.5 321.6 L1182.5 317.8 L1183.5 316.0 L1184.5 316.9 L1185.5 318.7 L1186.5 322.3 L1187.5 324.6 L1188.5 327.3 L1189.5 326.3 L1190.5 329.6 L1191.5 328.6 L1192.5 327.7 L1193.5 324.5" fill="none" stroke="#9fdcc0" stroke-width="0.8" stroke-dasharray="1 1.6" stroke-opacity="0.75"/>
<path d="M78.2 625.0 L79.1 626.7 L80.0 630.5 L80.9 630.1 L81.8 627.5 L82.4 619.5 L83.0 612.5 L84.0 610.1 L85.0 605.0 L85.6 603.2 L86.2 602.5 L86.9 594.3 L87.5 587.5 L88.5 579.5 L89.5 582.5 L90.5 600.0 L91.2 594.2 L92.0 590.0 L93.0 587.5 L93.6 591.2 L94.2 593.8 L95.2 590.5 L96.2 590.0 L97.1 592.5 L97.9 590.7 L98.8 592.5 L99.6 594.4 L100.4 592.4 L101.2 593.8 L101.9 601.8 L102.5 611.2 L103.1 607.8 L103.8 602.5 L104.6 601.5 L105.4 605.9 L106.2 605.0 L107.1 603.0 L107.9 603.6 L108.8 604.5 L109.6 606.2 L110.4 607.0 L111.2 606.2 L112.1 602.3 L112.9 602.1 L113.8 598.0 L114.6 597.2 L115.4 601.1 L116.2 600.0 L117.1 598.8 L117.9 599.4 L118.8 602.0 L119.6 602.6 L120.4 602.9 L121.2 600.5 L122.1 601.4 L122.9 598.2 L123.8 598.8 L124.6 596.4 L125.4 598.1 L126.2 596.2 L127.1 596.1 L127.9 590.4 L128.8 590.0 L129.6 587.3 L130.5 583.0 L131.2 584.2 L132.0 587.5 L132.8 585.3 L133.7 586.0 L134.5 583.8 L135.3 582.1 L136.2 581.0 L137.0 582.5 L138.0 584.0 L139.0 580.6 L140.0 581.2 L140.8 581.4 L141.7 578.2 L142.5 578.8 L143.3 579.0 L144.2 575.3 L145.0 576.2 L145.6 572.8 L146.2 567.5 L147.1 564.7 L148.0 560.0 L148.8 556.4 L149.5 554.5 L150.2 545.0 L151.2 565.0 L151.9 571.8 L152.5 577.0 L153.1 572.7 L153.8 570.0 L154.6 565.9 L155.5 563.8 L156.5 564.4 L157.5 562.5 L158.5 557.8 L159.5 555.0 L160.4 554.6 L161.2 556.2 L162.1 555.7 L163.0 553.8 L164.0 548.2 L165.0 545.0 L165.6 543.3 L166.2 540.0 L167.1 536.2 L168.0 533.8 L168.8 535.2 L169.5 535.0 L170.1 539.4 L170.8 545.0 L171.4 540.8 L172.0 535.0 L172.6 543.2 L173.2 552.5 L173.9 558.2 L174.5 562.0 L175.4 555.0 L176.2 550.0 L177.1 547.1 L178.0 542.5 L179.0 539.6 L180.0 538.8 L181.0 538.1 L182.0 535.0 L182.9 532.2 L183.8 531.2 L184.6 528.2 L185.5 523.8 L186.2 519.0 L187.0 516.2 L187.9 512.1 L188.8 506.2 L189.6 504.6 L190.5 501.2 L191.2 496.1 L192.0 492.5 L192.6 486.1 L193.2 478.8 L194.2 490.0 L194.9 483.1 L195.5 477.5 L196.2 470.4 L197.0 465.0 L197.6 461.9 L198.2 460.0 L198.9 468.3 L199.5 475.0 L200.4 473.5 L201.2 470.0 L202.1 472.4 L203.0 476.2 L204.0 474.7 L205.0 471.2 L206.0 473.3 L207.0 472.5 L207.6 476.9 L208.2 482.5 L209.2 497.5 L209.9 489.2 L210.5 482.5 L211.5 465.0 L212.2 468.0 L213.0 472.5 L213.8 468.2 L214.5 462.5 L215.1 460.6 L215.8 460.0 L216.4 451.9 L217.0 442.5 L217.9 433.4 L218.8 426.2 L219.6 425.1 L220.4 428.1 L221.2 426.2 L222.1 424.2 L222.9 416.6 L223.8 414.5 L224.6 418.9 L225.5 425.0 L226.2 429.8 L227.0 432.5 L228.0 451.2 L228.8 442.3 L229.5 435.0 L230.4 432.8 L231.2 428.8 L232.1 426.5 L232.9 427.5 L233.8 425.0 L234.6 419.4 L235.5 412.5 L236.2 407.2 L237.0 400.0 L237.9 400.0 L238.8 397.5 L239.6 401.1 L240.5 402.5 L241.2 395.3 L242.0 390.0 L242.9 384.6 L243.8 377.5 L244.4 379.3 L245.0 382.5 L246.0 397.5 L246.8 386.1 L247.5 372.5 L248.4 369.1 L249.2 367.5 L250.2 360.2 L251.2 350.0 L252.1 341.3 L253.0 335.0 L253.8 323.2 L254.5 310.0 L255.4 300.7 L256.2 293.8 L256.9 300.2 L257.5 305.0 L258.5 311.4 L259.5 315.0 L260.4 309.4 L261.2 302.5 L262.1 306.3 L263.0 312.5 L263.8 318.2 L264.5 322.5 L265.4 329.6 L266.2 338.8 L267.1 341.4 L267.9 340.3 L268.8 342.5 L269.6 353.2 L270.5 362.5 L271.2 371.9 L272.0 382.5 L272.9 371.3 L273.8 362.5 L274.6 356.0 L275.5 347.5 L276.2 344.2 L277.0 342.5 L277.6 348.3 L278.2 352.5 L278.9 345.6 L279.5 340.0 L280.4 348.4 L281.2 355.0 L282.1 358.3 L283.0 363.8 L283.8 367.7 L284.5 370.0 L285.4 365.5 L286.2 362.5 L287.1 373.6 L288.0 382.5 L289.0 383.9 L290.0 387.5 L290.9 382.7 L291.8 380.0 L292.4 374.4 L293.0 367.5 L294.0 361.2 L295.0 357.5 L295.8 358.7 L296.7 355.5 L297.5 356.2 L298.4 355.5 L299.2 352.5 L300.0 356.7 L300.8 362.5 L301.9 366.6 L303.0 367.5 L304.0 372.3 L305.0 375.0 L305.8 377.1 L306.7 374.4 L307.5 376.2 L308.3 380.9 L309.2 380.3 L310.0 385.0 L311.0 388.8 L312.0 390.0 L312.9 387.7 L313.8 387.5 L314.6 393.6 L315.5 397.5 L316.5 392.3 L317.5 388.8 L318.3 390.6 L319.2 389.4 L320.0 391.2 L321.0 383.5 L322.0 377.5 L322.9 373.7 L323.8 367.5 L324.6 366.9 L325.5 368.8 L326.2 376.7 L327.0 382.5 L327.9 388.6 L328.8 392.5 L329.6 390.7 L330.4 392.3 L331.2 390.0 L332.1 386.4 L332.9 386.8 L333.8 382.5 L334.6 379.7 L335.5 378.8 L336.5 385.8 L337.5 390.0 L338.3 388.5 L339.2 390.7 L340.0 388.8 L340.8 386.6 L341.7 388.4 L342.5 386.2 L343.3 385.3 L344.2 388.5 L345.0 387.5 L345.8 389.3 L346.7 387.2 L347.5 388.8 L348.3 390.8 L349.2 388.1 L350.0 390.0 L350.8 391.1 L351.7 390.3 L352.5 388.8 L353.3 387.5 L354.2 388.1 L355.0 390.0 L355.8 391.5 L356.7 388.5 L357.5 389.5 L358.2 396.9 L359.0 402.5 L359.8 410.6 L360.5 420.0 L361.2 426.1 L362.0 430.0 L362.9 432.6 L363.8 437.5 L364.6 441.2 L365.5 442.5 L366.5 446.5 L367.5 452.5 L368.4 442.6 L369.2 431.2 L370.2 434.6 L371.2 440.0 L372.1 437.1 L373.0 432.5 L374.0 430.5 L375.0 431.2 L375.8 436.5 L376.7 436.4 L377.5 441.2 L378.3 443.4 L379.2 443.6 L380.0 442.5 L380.8 441.7 L381.7 442.8 L382.5 445.0 L383.5 447.1 L384.5 446.2 L385.4 441.7 L386.2 438.8 L387.1 436.8 L388.0 432.5 L388.6 429.7 L389.2 428.8 L390.2 431.6 L391.2 436.2 L392.1 437.0 L392.9 433.8 L393.8 435.0 L394.6 432.4 L395.4 435.1 L396.2 432.5 L397.1 430.7 L397.9 432.7 L398.8 431.2 L399.6 423.2 L400.5 417.5 L401.5 414.8 L402.5 410.0 L403.3 407.6 L404.2 409.6 L405.0 407.5 L405.8 405.7 L406.7 408.2 L407.5 406.2 L408.3 405.5 L409.2 401.0 L410.0 400.0 L410.9 396.1 L411.8 390.0 L412.4 381.6 L413.0 375.0 L413.8 371.9 L414.5 370.0 L415.4 370.3 L416.2 372.5 L416.9 369.0 L417.5 363.8 L418.5 363.1 L419.5 365.0 L420.4 370.6 L421.2 373.8 L422.1 367.0 L423.0 362.5 L424.0 355.0 L425.0 350.0 L425.9 340.1 L426.8 328.8 L427.8 332.1 L428.8 337.5 L429.6 335.5 L430.5 331.2 L431.5 337.2 L432.5 345.0 L433.5 351.2 L434.5 355.0 L435.4 352.5 L436.2 352.5 L437.1 347.0 L438.0 340.0 L439.0 338.4 L440.0 335.0 L441.0 341.2 L442.0 350.0 L442.9 348.5 L443.8 345.0 L444.6 346.5 L445.4 351.9 L446.2 353.8 L447.1 348.9 L448.0 346.2 L449.0 348.1 L450.0 347.5 L450.8 346.6 L451.7 349.6 L452.5 348.8 L453.4 356.3 L454.2 362.5 L454.9 365.0 L455.5 368.8 L456.5 368.5 L457.5 366.2 L458.3 366.2 L459.2 370.4 L460.0 370.0 L460.8 366.6 L461.7 367.9 L462.5 365.0 L463.1 370.1 L463.8 376.2 L464.5 356.2 L465.3 357.9 L466.2 355.1 L467.0 356.2 L467.8 359.6 L468.7 361.2 L469.5 361.2 L470.4 363.6 L471.2 367.5 L472.1 374.5 L473.0 380.0 L474.0 376.3 L475.0 375.0 L476.0 377.8 L477.0 378.8 L477.9 377.4 L478.8 377.5 L479.4 381.0 L480.0 386.2 L481.0 380.8 L482.0 377.5 L482.8 379.4 L483.7 376.5 L484.5 378.8 L485.4 375.2 L486.2 370.0 L487.1 368.9 L487.9 363.4 L488.8 362.5 L489.6 363.8 L490.4 360.2 L491.2 361.2 L492.1 359.7 L493.0 356.2 L494.0 353.2 L495.0 352.5 L495.8 352.7 L496.7 348.6 L497.5 348.8 L498.3 351.4 L499.2 351.5 L500.0 351.2 L500.9 353.9 L501.8 358.8 L502.8 359.2 L503.8 357.5 L504.6 361.8 L505.5 367.5 L506.5 390.0 L507.0 413.8 L507.6 407.8 L508.2 400.0 L508.9 391.6 L509.5 385.0 L510.4 392.0 L511.2 397.5 L511.9 392.0 L512.5 385.0 L513.4 384.9 L514.2 382.5 L515.2 380.2 L516.2 380.0 L517.1 381.8 L518.0 386.2 L518.8 381.1 L519.5 377.5 L520.4 373.5 L521.2 367.5 L522.1 361.8 L523.0 357.5 L523.8 355.1 L524.5 351.2 L525.5 363.8 L526.5 357.6 L527.5 353.8 L528.5 358.0 L529.5 360.0 L530.4 353.9 L531.2 350.0 L532.1 353.5 L533.0 355.0 L534.1 354.1 L535.2 357.6 L536.2 356.2 L537.3 355.8 L538.4 359.4 L539.5 358.8 L540.5 357.2 L541.5 359.1 L542.5 357.5 L543.4 356.3 L544.4 358.4 L545.3 356.0 L546.2 357.0 L547.1 354.3 L548.0 350.0 L548.6 344.5 L549.2 340.0 L550.2 339.3 L551.2 336.2 L552.1 334.9 L552.9 336.8 L553.8 335.0 L554.6 333.7 L555.5 333.8 L556.5 336.7 L557.5 337.5 L558.5 335.4 L559.5 336.2 L560.1 343.0 L560.8 348.8 L561.9 347.1 L563.0 347.5 L564.0 346.0 L565.0 342.5 L566.0 343.6 L567.0 346.2 L567.8 346.2 L568.7 342.4 L569.5 342.5 L570.3 340.0 L571.2 341.2 L572.0 338.8 L572.9 339.2 L573.8 337.5 L574.4 333.2 L575.0 330.0 L576.0 329.0 L577.0 325.0 L577.9 321.8 L578.8 320.0 L579.4 317.4 L580.0 313.8 L581.0 309.8 L582.0 307.5 L582.9 304.9 L583.8 300.0 L584.6 297.1 L585.5 292.5 L586.5 292.4 L587.5 290.0 L588.4 293.1 L589.2 293.8 L590.0 292.5 L590.8 290.0 L591.2 288.8 L591.9 283.6 L592.5 280.0 L593.1 274.5 L593.8 270.0 L594.6 265.0 L595.5 257.5 L596.2 250.5 L597.0 245.0 L597.6 240.8 L598.2 235.0 L598.9 231.2 L599.5 226.2 L600.4 227.0 L601.2 230.0 L601.9 233.6 L602.5 238.8 L603.1 240.0 L603.8 242.5 L604.4 246.8 L605.0 250.0 L605.6 244.3 L606.2 240.0 L606.9 235.6 L607.5 230.0 L608.2 224.1 L609.0 220.0 L610.0 210.0 L610.6 206.9 L611.2 202.5 L611.9 198.8 L612.5 196.2 L613.1 201.1 L613.8 205.0 L614.4 207.3 L615.0 211.2 L615.6 209.3 L616.2 206.2 L616.9 200.4 L617.5 196.2 L618.1 194.0 L618.8 190.0 L619.4 192.6 L620.0 193.8 L620.6 197.7 L621.2 200.0 L621.9 201.2 L622.5 203.8 L623.1 199.4 L623.8 193.8 L624.4 193.0 L625.0 191.2 L626.0 191.0 L627.0 192.5 L627.9 190.5 L628.8 186.2 L629.4 188.9 L630.0 192.5 L630.6 199.5 L631.2 205.0 L631.9 205.8 L632.5 207.5 L633.1 203.4 L633.8 197.5 L634.4 194.9 L635.0 193.8 L635.9 194.9 L636.8 193.8 L637.4 199.8 L638.0 207.5 L638.8 216.9 L639.5 225.0 L640.1 229.5 L640.8 235.0 L641.4 230.7 L642.0 227.5 L642.9 234.4 L643.8 238.8 L644.4 233.5 L645.0 230.0 L645.6 235.7 L646.2 240.0 L646.9 232.3 L647.5 226.2 L648.1 235.2 L648.8 242.5 L649.6 243.8 L650.5 247.5 L651.2 244.0 L652.0 238.8 L652.9 238.6 L653.8 240.0 L654.6 240.2 L655.5 242.5 L656.2 243.1 L657.0 245.0 L657.6 249.4 L658.2 252.5 L658.9 245.7 L659.5 240.0 L660.1 234.5 L660.8 227.5 L661.6 224.0 L662.5 222.5 L663.4 219.7 L664.2 215.0 L665.2 211.3 L666.2 210.0 L667.1 211.5 L668.0 211.2 L669.0 210.4 L670.0 207.5 L671.0 207.9 L672.0 210.0 L672.6 206.8 L673.2 202.5 L673.9 208.3 L674.5 212.5 L675.4 213.2 L676.2 211.2 L677.1 215.6 L678.0 222.5 L678.8 223.9 L679.5 223.8 L680.1 217.8 L680.8 210.0 L681.6 205.4 L682.5 198.8 L683.5 195.2 L684.5 193.8 L685.4 186.8 L686.2 182.5 L687.1 186.9 L688.0 188.8 L689.0 186.0 L690.0 185.0 L690.9 186.5 L691.8 186.2 L692.5 182.2 L693.2 180.0 L693.9 185.2 L694.5 188.8 L695.4 190.3 L696.2 193.8 L697.1 194.3 L698.0 192.5 L699.0 195.3 L700.0 200.0 L700.8 204.5 L701.5 207.5 L702.2 208.8 L703.0 211.2 L704.0 213.2 L705.0 212.5 L706.0 207.9 L707.0 206.2 L707.9 208.1 L708.8 212.5 L709.4 214.3 L710.0 215.0 L710.6 217.4 L711.2 221.2 L712.3 226.8 L713.4 227.6 L714.4 234.8 L715.5 237.5 L716.5 236.4 L717.5 232.5 L718.5 226.3 L719.5 221.5 L720.5 217.5 L721.6 222.3 L722.7 223.1 L723.8 227.5 L724.6 230.8 L725.5 232.5 L726.5 223.9 L727.5 217.5 L728.3 220.0 L729.2 224.8 L730.0 230.0 L731.0 228.5 L732.0 223.7 L733.0 222.5 L733.9 220.5 L734.8 214.2 L735.8 212.0 L736.9 215.0 L738.0 215.0 L739.0 219.0 L740.0 225.0 L740.9 227.0 L741.9 224.7 L742.8 225.2 L743.8 227.5 L744.8 229.4 L745.9 227.5 L747.0 230.0 L748.0 247.5 L748.8 252.3 L749.5 255.0 L750.5 252.9 L751.5 254.3 L752.5 252.5 L753.5 249.2 L754.5 248.8 L755.3 247.8 L756.2 251.4 L757.0 250.0 L758.0 260.0 L758.6 269.5 L759.2 277.5 L759.9 284.3 L760.5 292.5 L761.5 288.4 L762.5 282.5 L763.5 284.7 L764.5 290.0 L765.4 287.2 L766.2 282.5 L767.1 285.9 L768.0 291.2 L769.0 282.6 L770.0 276.2 L770.8 274.7 L771.7 276.9 L772.5 275.0 L773.5 273.0 L774.5 273.8 L775.3 271.1 L776.2 273.1 L777.0 271.2 L777.9 272.7 L778.8 276.2 L779.6 280.9 L780.5 283.8 L781.3 283.2 L782.2 287.8 L783.0 287.5 L784.0 288.2 L785.0 291.2 L785.8 284.5 L786.5 280.0 L787.2 284.4 L788.0 287.5 L789.0 291.5 L790.0 293.8 L790.9 291.1 L791.9 293.1 L792.8 292.8 L793.8 290.0 L794.7 289.0 L795.6 291.7 L796.6 289.1 L797.5 291.2 L798.4 291.2 L799.4 287.7 L800.3 289.2 L801.2 286.2 L802.4 286.4 L803.5 283.8 L804.5 300.0 L805.5 308.0 L806.6 307.5 L807.7 303.3 L808.8 303.8 L809.7 304.6 L810.6 301.9 L811.6 303.8 L812.5 302.5 L813.3 300.2 L814.2 303.5 L815.0 301.2 L815.8 300.2 L816.7 304.5 L817.5 303.8 L818.4 303.1 L819.4 305.5 L820.3 303.0 L821.2 305.0 L822.1 301.5 L822.9 298.5 L823.8 297.5 L824.4 291.8 L825.0 285.0 L826.0 279.7 L827.0 277.5 L828.0 277.7 L829.0 274.8 L830.0 275.0 L830.8 277.6 L831.7 275.5 L832.5 277.5 L833.3 273.1 L834.2 271.3 L835.0 270.0 L835.8 272.7 L836.7 270.1 L837.5 272.5 L838.3 274.7 L839.2 273.3 L840.0 276.2 L840.8 282.8 L841.5 287.5 L842.5 272.5 L843.1 265.5 L843.8 260.0 L844.6 261.0 L845.4 260.3 L846.2 258.8 L847.2 256.3 L848.1 256.4 L849.1 255.1 L850.0 256.2 L850.8 255.8 L851.7 251.9 L852.5 251.2 L853.5 253.9 L854.5 258.8 L855.5 256.4 L856.5 258.0 L857.5 255.0 L858.3 254.8 L859.2 259.8 L860.0 260.0 L860.9 259.6 L861.9 262.6 L862.8 260.4 L863.8 262.5 L864.7 263.6 L865.6 260.6 L866.6 263.1 L867.5 261.2 L868.4 264.6 L869.4 266.1 L870.3 264.1 L871.2 267.5 L872.1 263.2 L873.0 257.5 L874.0 251.8 L875.0 248.8 L875.9 251.2 L876.9 248.8 L877.8 253.0 L878.8 252.5 L879.7 251.0 L880.6 251.7 L881.6 255.0 L882.5 253.8 L883.4 252.7 L884.4 252.7 L885.3 256.4 L886.2 255.0 L887.3 253.1 L888.4 256.1 L889.5 255.0 L890.4 258.1 L891.2 263.8 L892.2 265.8 L893.1 263.1 L894.1 266.1 L895.0 265.0 L896.0 264.1 L897.0 267.6 L898.0 266.2 L899.1 263.9 L900.2 265.1 L901.2 262.5 L902.2 261.1 L903.1 263.1 L904.1 260.6 L905.0 261.2 L905.9 263.1 L906.9 259.6 L907.8 259.5 L908.8 261.2 L909.4 257.4 L910.0 255.0 L910.8 248.8 L911.5 241.2 L912.6 241.2 L913.8 238.8 L914.7 235.7 L915.6 237.4 L916.6 236.5 L917.5 233.8 L918.6 232.5 L919.8 234.1 L920.9 233.9 L922.0 232.5 L923.0 225.2 L924.0 220.0 L924.8 220.2 L925.5 218.8 L926.5 218.7 L927.5 221.2 L928.4 221.7 L929.4 221.6 L930.3 218.0 L931.2 218.8 L932.2 219.4 L933.1 215.3 L934.1 216.3 L935.0 213.8 L935.8 218.0 L936.7 217.4 L937.5 221.2 L938.3 224.7 L939.2 223.3 L940.0 226.2 L941.0 225.7 L942.0 220.2 L943.0 220.0 L944.0 214.9 L945.0 207.5 L945.8 205.1 L946.7 206.8 L947.5 203.8 L948.5 200.9 L949.5 200.0 L950.4 192.0 L951.2 186.2 L952.1 182.7 L953.0 177.5 L953.8 174.5 L954.5 173.8 L955.3 179.0 L956.2 180.0 L957.0 185.0 L957.9 182.5 L958.8 177.5 L959.7 178.8 L960.6 175.9 L961.6 177.8 L962.5 176.2 L963.5 177.0 L964.5 183.0 L965.5 183.8 L966.6 185.7 L967.7 186.7 L968.8 186.2 L969.4 188.2 L970.0 191.2 L970.8 191.0 L971.7 186.2 L972.5 186.2 L973.5 182.3 L974.5 181.7 L975.5 177.5 L976.6 176.3 L977.7 179.1 L978.8 177.5 L979.6 176.0 L980.4 178.0 L981.2 176.2 L982.2 176.9 L983.1 181.2 L984.1 180.3 L985.0 183.8 L985.8 186.7 L986.7 184.8 L987.5 187.5 L988.3 191.6 L989.2 191.5 L990.0 195.0 L990.8 193.4 L991.7 186.8 L992.5 185.0 L993.3 185.1 L994.2 180.5 L995.0 180.0 L995.8 178.5 L996.7 182.7 L997.5 181.2 L998.5 189.1 L999.5 198.8 L1000.0 190.6 L1001.1 190.8 L1002.2 188.8 L1003.5 185.4 L1004.7 185.0 L1005.9 190.2 L1007.1 192.5 L1008.2 197.1 L1009.4 199.1 L1010.5 193.2 L1011.6 190.6 L1012.8 188.7 L1014.1 184.1 L1015.0 182.3 L1015.9 183.1 L1016.9 185.8 L1017.8 186.9 L1018.8 186.7 L1019.7 188.8 L1020.6 185.9 L1021.6 180.3 L1022.5 180.0 L1023.4 177.5 L1024.4 176.9 L1025.3 173.8 L1026.0 175.4 L1026.6 178.4 L1027.4 174.2 L1028.1 168.1 L1028.9 160.8 L1029.6 155.0 L1030.3 154.8 L1030.9 153.1 L1031.6 149.0 L1032.2 146.6 L1033.4 150.3 L1034.5 149.6 L1035.6 146.6 L1036.6 144.5 L1037.5 144.7 L1038.6 143.8 L1039.8 140.0 L1040.5 143.0 L1041.2 147.5 L1042.2 149.8 L1043.1 148.3 L1044.1 150.3 L1045.0 149.5 L1045.9 146.6 L1046.9 146.9 L1047.8 149.4 L1048.8 146.4 L1049.7 141.9 L1050.9 139.2 L1052.1 140.0 L1053.2 140.1 L1054.4 142.8 L1055.3 145.4 L1056.2 146.6 L1057.4 146.4 L1058.5 148.4 L1059.7 146.9 L1060.9 147.5 L1061.9 151.6 L1062.8 157.8 L1063.8 152.2 L1064.7 159.7 L1065.6 165.3 L1066.6 163.8 L1067.5 160.6 L1068.6 157.5 L1069.8 156.9 L1071.0 159.9 L1072.2 160.6 L1073.1 162.4 L1074.1 161.6 L1075.0 168.1 L1075.9 160.6 L1076.9 158.3 L1077.8 158.8 L1078.5 155.4 L1079.1 150.3 L1080.3 148.2 L1081.6 148.4 L1082.5 148.9 L1083.4 146.6 L1084.4 141.9 L1085.3 139.7 L1086.2 140.0 L1087.2 138.8 L1088.1 135.3 L1089.1 136.1 L1090.0 139.1 L1090.9 141.3 L1091.9 140.9 L1092.8 138.5 L1093.8 138.1 L1094.7 140.5 L1095.6 140.9 L1096.6 142.8 L1097.5 142.8 L1098.4 139.8 L1099.4 139.1 L1100.3 139.4 L1101.2 136.2 L1102.2 137.2 L1102.8 134.3 L1103.5 129.7 L1104.7 127.4 L1105.9 128.8 L1107.2 127.6 L1108.4 129.7 L1109.5 132.0 L1110.6 132.5 L1111.8 128.3 L1113.1 127.2 L1113.9 128.6 L1114.8 131.6 L1116.0 134.3 L1117.2 133.4 L1118.1 134.0 L1119.1 136.6 L1120.0 137.0 L1120.9 133.5 L1121.9 134.4 L1122.8 133.8 L1123.8 131.6 L1124.9 131.1 L1126.0 133.4 L1126.8 134.2 L1127.5 136.2 L1128.2 132.7 L1129.0 127.8 L1129.8 126.0 L1130.7 125.9 L1131.4 130.8 L1132.2 133.4 L1133.1 134.9 L1134.1 138.1 L1135.0 136.5 L1135.9 133.4 L1136.9 133.6 L1137.8 136.2 L1138.8 140.3 L1139.7 142.8 L1140.6 142.8 L1141.6 144.7 L1142.5 148.1 L1143.4 153.1 L1144.1 155.2 L1144.8 158.8 L1145.5 155.1 L1146.2 153.1 L1147.2 153.1 L1148.1 151.2 L1149.1 150.7 L1150.0 152.2 L1151.1 153.4 L1152.2 156.9 L1153.5 157.7 L1154.7 155.9 L1155.9 154.3 L1157.1 155.0 L1158.1 153.8 L1159.0 150.3 L1159.9 148.4 L1160.9 148.4 L1161.8 152.0 L1162.8 154.1 L1163.7 154.2 L1164.6 155.9 L1165.3 160.8 L1165.9 164.4 L1166.9 171.9 L1167.4 185.9 L1168.2 176.6 L1168.9 177.1 L1169.7 179.4 L1170.6 181.6 L1171.6 181.2 L1172.5 181.2 L1173.4 183.1 L1174.4 180.1 L1175.3 175.6 L1176.2 173.8 L1177.0 175.2 L1177.8 178.4 L1178.4 176.1 L1179.1 171.9 L1180.0 172.6 L1180.9 175.6 L1181.9 179.2 L1182.8 181.2 L1183.8 181.6 L1184.7 180.3 L1185.6 176.5 L1186.6 175.6 L1187.5 174.3 L1188.4 170.9 L1189.4 168.2 L1190.3 167.2 L1191.0 166.0 L1191.6 166.2 L1192.4 168.8 L1193.1 169.6" fill="none" stroke="#111" stroke-width="1.12" stroke-linejoin="round"/>
<line x1="72" y1="100" x2="72" y2="656" stroke="#379e7e" stroke-width="2"/>
<line x1="1200" y1="100" x2="1200" y2="656" stroke="#222" stroke-width="2"/>
<text x="30.26" y="140.6" class="ax" textLength="29.74" lengthAdjust="spacingAndGlyphs">0.15</text>
<text x="38.76" y="201.3" class="ax" textLength="21.24" lengthAdjust="spacingAndGlyphs">0.1</text>
<text x="30.26" y="261.9" class="ax" textLength="29.74" lengthAdjust="spacingAndGlyphs">0.05</text>
<text x="25.17" y="383.3" class="ax" textLength="34.83" lengthAdjust="spacingAndGlyphs">-0.05</text>
<text x="33.67" y="443.9" class="ax" textLength="26.33" lengthAdjust="spacingAndGlyphs">-0.1</text>
<text x="25.17" y="504.6" class="ax" textLength="34.83" lengthAdjust="spacingAndGlyphs">-0.15</text>
<text x="33.67" y="565.3" class="ax" textLength="26.33" lengthAdjust="spacingAndGlyphs">-0.2</text>
<text x="25.17" y="625.9" class="ax" textLength="34.83" lengthAdjust="spacingAndGlyphs">-0.25</text>
<rect x="46" y="299" width="24.5" height="26" rx="2" fill="#1a9e65"/>
<text x="50.3" y="318.2" class="ax" style="fill:#fff">0*</text>
<text x="1213" y="148.5" class="ax" textLength="42.2" lengthAdjust="spacingAndGlyphs">$100K</text>
<text x="1213" y="194.1" class="ax" textLength="33.9" lengthAdjust="spacingAndGlyphs">$60K</text>
<text x="1213" y="230.3" class="ax" textLength="33.9" lengthAdjust="spacingAndGlyphs">$40K</text>
<text x="1213" y="292.1" class="ax" textLength="33.9" lengthAdjust="spacingAndGlyphs">$20K</text>
<text x="1213" y="354.0" class="ax" textLength="33.9" lengthAdjust="spacingAndGlyphs">$10K</text>
<text x="1213" y="373.9" class="ax" textLength="25.6" lengthAdjust="spacingAndGlyphs">$8K</text>
<text x="1213" y="399.6" class="ax" textLength="25.6" lengthAdjust="spacingAndGlyphs">$6K</text>
<text x="1213" y="435.8" class="ax" textLength="25.6" lengthAdjust="spacingAndGlyphs">$4K</text>
<text x="1213" y="497.6" class="ax" textLength="25.6" lengthAdjust="spacingAndGlyphs">$2K</text>
<text x="1213" y="559.5" class="ax" textLength="25.6" lengthAdjust="spacingAndGlyphs">$1K</text>
<text x="1213" y="579.4" class="ax" textLength="33.5" lengthAdjust="spacingAndGlyphs">$800</text>
<text x="1213" y="605.1" class="ax" textLength="33.5" lengthAdjust="spacingAndGlyphs">$600</text>
<text x="1213" y="641.3" class="ax" textLength="33.5" lengthAdjust="spacingAndGlyphs">$400</text>
<rect x="1202" y="155" width="56.5" height="26" rx="2" fill="#111"/>
<text x="1207" y="173.8" class="ax" textLength="46.2" lengthAdjust="spacingAndGlyphs" style="fill:#fff">$75.6K</text>
<text x="1088.2" y="702.2" textLength="160.2" lengthAdjust="spacingAndGlyphs" font-size="11" fill="#7d7d7d">© CryptoQuant. All rights reserved</text>
</svg>
</body></html>
